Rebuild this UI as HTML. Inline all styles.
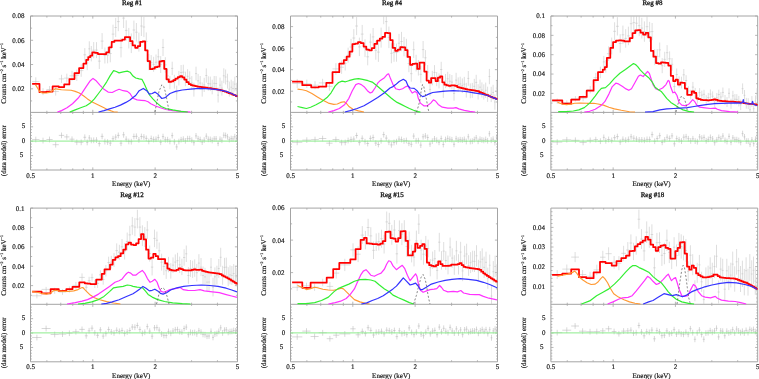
<!DOCTYPE html>
<html><head><meta charset="utf-8"><style>
html,body{margin:0;padding:0;background:#fff;}
svg{display:block;will-change:transform;}
text{font-family:"Liberation Serif",serif;font-size:7px;fill:#111;stroke:#111;stroke-width:0.16px;text-rendering:geometricPrecision;}
</style></head><body>
<svg width="759" height="379" viewBox="0 0 759 379">
<g><path d="M30.5,16.0H237.5V170.0H30.5Z M30.5,112.4H237.5" fill="none" stroke="#a4a4a4" stroke-width="1"/><path d="M46.89,16.0v1.6M46.89,112.4v-1.6M46.89,112.4v1.6M46.89,170.0v-1.6M60.75,16.0v1.6M60.75,112.4v-1.6M60.75,112.4v1.6M60.75,170.0v-1.6M72.75,16.0v1.6M72.75,112.4v-1.6M72.75,112.4v1.6M72.75,170.0v-1.6M83.34,16.0v1.6M83.34,112.4v-1.6M83.34,112.4v1.6M83.34,170.0v-1.6M92.81,16.0v2.6M92.81,112.4v-2.6M92.81,112.4v2.6M92.81,170.0v-2.6M155.13,16.0v2.6M155.13,112.4v-2.6M155.13,112.4v2.6M155.13,170.0v-2.6M191.58,16.0v1.6M191.58,112.4v-1.6M191.58,112.4v1.6M191.58,170.0v-1.6M217.44,16.0v1.6M217.44,112.4v-1.6M217.44,112.4v1.6M217.44,170.0v-1.6M30.5,100.93h1.6M237.5,100.93h-1.6M30.5,88.80h2.6M237.5,88.80h-2.6M30.5,76.67h1.6M237.5,76.67h-1.6M30.5,64.53h2.6M237.5,64.53h-2.6M30.5,52.40h1.6M237.5,52.40h-1.6M30.5,40.27h2.6M237.5,40.27h-2.6M30.5,28.13h1.6M237.5,28.13h-1.6M30.5,16.00h2.6M237.5,16.00h-2.6M30.5,167.12h1.4M237.5,167.12h-1.4M30.5,164.24h1.4M237.5,164.24h-1.4M30.5,161.36h1.4M237.5,161.36h-1.4M30.5,158.48h1.4M237.5,158.48h-1.4M30.5,155.60h2.6M237.5,155.60h-2.6M30.5,152.72h1.4M237.5,152.72h-1.4M30.5,149.84h1.4M237.5,149.84h-1.4M30.5,146.96h1.4M237.5,146.96h-1.4M30.5,144.08h1.4M237.5,144.08h-1.4M30.5,141.20h2.6M237.5,141.20h-2.6M30.5,138.32h1.4M237.5,138.32h-1.4M30.5,135.44h1.4M237.5,135.44h-1.4M30.5,132.56h1.4M237.5,132.56h-1.4M30.5,129.68h1.4M237.5,129.68h-1.4M30.5,126.80h2.6M237.5,126.80h-2.6M30.5,123.92h1.4M237.5,123.92h-1.4M30.5,121.04h1.4M237.5,121.04h-1.4M30.5,118.16h1.4M237.5,118.16h-1.4M30.5,115.28h1.4M237.5,115.28h-1.4" fill="none" stroke="#a4a4a4" stroke-width="0.8"/><text x="24.5" y="91.20" text-anchor="end">0.02</text><text x="24.5" y="66.93" text-anchor="end">0.04</text><text x="24.5" y="42.67" text-anchor="end">0.06</text><text x="24.5" y="18.40" text-anchor="end">0.08</text><text x="25.2" y="128.40" text-anchor="end">5</text><text x="25.2" y="142.80" text-anchor="end">0</text><text x="23.2" y="157.20" text-anchor="end">5</text><text x="30.50" y="177.60" text-anchor="middle">0.5</text><text x="92.81" y="177.60" text-anchor="middle">1</text><text x="155.13" y="177.60" text-anchor="middle">2</text><text x="237.50" y="177.60" text-anchor="middle">5</text><text x="131.20" y="185.80" text-anchor="middle">Energy (keV)</text><text x="132.00" y="4.80" text-anchor="middle" style="stroke-width:0.3px">Reg #1</text><text transform="translate(5.5,73.30) rotate(-90)" text-anchor="middle">Counts cm<tspan font-size="4" dy="-2.3">−2</tspan><tspan dy="2.3"> s</tspan><tspan font-size="4" dy="-2.3">−1</tspan><tspan dy="2.3"> keV</tspan><tspan font-size="4" dy="-2.3">−1</tspan></text><text transform="translate(5.5,150.70) rotate(-90)" text-anchor="middle">(data model) error</text></g><g><path d="M290.5,16.0H497.5V170.0H290.5Z M290.5,112.4H497.5" fill="none" stroke="#a4a4a4" stroke-width="1"/><path d="M306.89,16.0v1.6M306.89,112.4v-1.6M306.89,112.4v1.6M306.89,170.0v-1.6M320.75,16.0v1.6M320.75,112.4v-1.6M320.75,112.4v1.6M320.75,170.0v-1.6M332.75,16.0v1.6M332.75,112.4v-1.6M332.75,112.4v1.6M332.75,170.0v-1.6M343.34,16.0v1.6M343.34,112.4v-1.6M343.34,112.4v1.6M343.34,170.0v-1.6M352.81,16.0v2.6M352.81,112.4v-2.6M352.81,112.4v2.6M352.81,170.0v-2.6M415.13,16.0v2.6M415.13,112.4v-2.6M415.13,112.4v2.6M415.13,170.0v-2.6M451.58,16.0v1.6M451.58,112.4v-1.6M451.58,112.4v1.6M451.58,170.0v-1.6M477.44,16.0v1.6M477.44,112.4v-1.6M477.44,112.4v1.6M477.44,170.0v-1.6M290.5,101.97h1.6M497.5,101.97h-1.6M290.5,91.20h2.6M497.5,91.20h-2.6M290.5,80.43h1.6M497.5,80.43h-1.6M290.5,69.67h2.6M497.5,69.67h-2.6M290.5,58.90h1.6M497.5,58.90h-1.6M290.5,48.13h2.6M497.5,48.13h-2.6M290.5,37.37h1.6M497.5,37.37h-1.6M290.5,26.60h2.6M497.5,26.60h-2.6M290.5,167.12h1.4M497.5,167.12h-1.4M290.5,164.24h1.4M497.5,164.24h-1.4M290.5,161.36h1.4M497.5,161.36h-1.4M290.5,158.48h1.4M497.5,158.48h-1.4M290.5,155.60h2.6M497.5,155.60h-2.6M290.5,152.72h1.4M497.5,152.72h-1.4M290.5,149.84h1.4M497.5,149.84h-1.4M290.5,146.96h1.4M497.5,146.96h-1.4M290.5,144.08h1.4M497.5,144.08h-1.4M290.5,141.20h2.6M497.5,141.20h-2.6M290.5,138.32h1.4M497.5,138.32h-1.4M290.5,135.44h1.4M497.5,135.44h-1.4M290.5,132.56h1.4M497.5,132.56h-1.4M290.5,129.68h1.4M497.5,129.68h-1.4M290.5,126.80h2.6M497.5,126.80h-2.6M290.5,123.92h1.4M497.5,123.92h-1.4M290.5,121.04h1.4M497.5,121.04h-1.4M290.5,118.16h1.4M497.5,118.16h-1.4M290.5,115.28h1.4M497.5,115.28h-1.4" fill="none" stroke="#a4a4a4" stroke-width="0.8"/><text x="284.5" y="93.60" text-anchor="end">0.02</text><text x="284.5" y="72.07" text-anchor="end">0.04</text><text x="284.5" y="50.53" text-anchor="end">0.06</text><text x="284.5" y="29.00" text-anchor="end">0.08</text><text x="285.2" y="128.40" text-anchor="end">5</text><text x="285.2" y="142.80" text-anchor="end">0</text><text x="283.2" y="157.20" text-anchor="end">5</text><text x="290.50" y="177.60" text-anchor="middle">0.5</text><text x="352.81" y="177.60" text-anchor="middle">1</text><text x="415.13" y="177.60" text-anchor="middle">2</text><text x="497.50" y="177.60" text-anchor="middle">5</text><text x="391.20" y="185.80" text-anchor="middle">Energy (keV)</text><text x="392.00" y="4.80" text-anchor="middle" style="stroke-width:0.3px">Reg #4</text><text transform="translate(265.5,73.30) rotate(-90)" text-anchor="middle">Counts cm<tspan font-size="4" dy="-2.3">−2</tspan><tspan dy="2.3"> s</tspan><tspan font-size="4" dy="-2.3">−1</tspan><tspan dy="2.3"> keV</tspan><tspan font-size="4" dy="-2.3">−1</tspan></text><text transform="translate(265.5,150.70) rotate(-90)" text-anchor="middle">(data model) error</text></g><g><path d="M550.9,16.0H757.7V170.0H550.9Z M550.9,112.4H757.7" fill="none" stroke="#a4a4a4" stroke-width="1"/><path d="M567.27,16.0v1.6M567.27,112.4v-1.6M567.27,112.4v1.6M567.27,170.0v-1.6M581.12,16.0v1.6M581.12,112.4v-1.6M581.12,112.4v1.6M581.12,170.0v-1.6M593.11,16.0v1.6M593.11,112.4v-1.6M593.11,112.4v1.6M593.11,170.0v-1.6M603.69,16.0v1.6M603.69,112.4v-1.6M603.69,112.4v1.6M603.69,170.0v-1.6M613.15,16.0v2.6M613.15,112.4v-2.6M613.15,112.4v2.6M613.15,170.0v-2.6M675.41,16.0v2.6M675.41,112.4v-2.6M675.41,112.4v2.6M675.41,170.0v-2.6M711.82,16.0v1.6M711.82,112.4v-1.6M711.82,112.4v1.6M711.82,170.0v-1.6M737.66,16.0v1.6M737.66,112.4v-1.6M737.66,112.4v1.6M737.66,170.0v-1.6M550.9,103.08h1.6M757.7,103.08h-1.6M550.9,93.40h2.6M757.7,93.40h-2.6M550.9,83.73h1.6M757.7,83.73h-1.6M550.9,74.05h2.6M757.7,74.05h-2.6M550.9,64.38h1.6M757.7,64.38h-1.6M550.9,54.70h2.6M757.7,54.70h-2.6M550.9,45.02h1.6M757.7,45.02h-1.6M550.9,35.35h2.6M757.7,35.35h-2.6M550.9,25.68h1.6M757.7,25.68h-1.6M550.9,16.00h2.6M757.7,16.00h-2.6M550.9,167.12h1.4M757.7,167.12h-1.4M550.9,164.24h1.4M757.7,164.24h-1.4M550.9,161.36h1.4M757.7,161.36h-1.4M550.9,158.48h1.4M757.7,158.48h-1.4M550.9,155.60h2.6M757.7,155.60h-2.6M550.9,152.72h1.4M757.7,152.72h-1.4M550.9,149.84h1.4M757.7,149.84h-1.4M550.9,146.96h1.4M757.7,146.96h-1.4M550.9,144.08h1.4M757.7,144.08h-1.4M550.9,141.20h2.6M757.7,141.20h-2.6M550.9,138.32h1.4M757.7,138.32h-1.4M550.9,135.44h1.4M757.7,135.44h-1.4M550.9,132.56h1.4M757.7,132.56h-1.4M550.9,129.68h1.4M757.7,129.68h-1.4M550.9,126.80h2.6M757.7,126.80h-2.6M550.9,123.92h1.4M757.7,123.92h-1.4M550.9,121.04h1.4M757.7,121.04h-1.4M550.9,118.16h1.4M757.7,118.16h-1.4M550.9,115.28h1.4M757.7,115.28h-1.4" fill="none" stroke="#a4a4a4" stroke-width="0.8"/><text x="544.9" y="95.80" text-anchor="end">0.02</text><text x="544.9" y="76.45" text-anchor="end">0.04</text><text x="544.9" y="57.10" text-anchor="end">0.06</text><text x="544.9" y="37.75" text-anchor="end">0.08</text><text x="544.9" y="18.40" text-anchor="end">0.1</text><text x="545.6" y="128.40" text-anchor="end">5</text><text x="545.6" y="142.80" text-anchor="end">0</text><text x="543.6" y="157.20" text-anchor="end">5</text><text x="550.90" y="177.60" text-anchor="middle">0.5</text><text x="613.15" y="177.60" text-anchor="middle">1</text><text x="675.41" y="177.60" text-anchor="middle">2</text><text x="757.70" y="177.60" text-anchor="middle">5</text><text x="651.60" y="185.80" text-anchor="middle">Energy (keV)</text><text x="652.40" y="4.80" text-anchor="middle" style="stroke-width:0.3px">Reg #8</text><text transform="translate(525.9,73.30) rotate(-90)" text-anchor="middle">Counts cm<tspan font-size="4" dy="-2.3">−2</tspan><tspan dy="2.3"> s</tspan><tspan font-size="4" dy="-2.3">−1</tspan><tspan dy="2.3"> keV</tspan><tspan font-size="4" dy="-2.3">−1</tspan></text><text transform="translate(525.9,150.70) rotate(-90)" text-anchor="middle">(data model) error</text></g><g><path d="M30.5,208.1H237.5V361.8H30.5Z M30.5,304.3H237.5" fill="none" stroke="#a4a4a4" stroke-width="1"/><path d="M46.89,208.1v1.6M46.89,304.3v-1.6M46.89,304.3v1.6M46.89,361.8v-1.6M60.75,208.1v1.6M60.75,304.3v-1.6M60.75,304.3v1.6M60.75,361.8v-1.6M72.75,208.1v1.6M72.75,304.3v-1.6M72.75,304.3v1.6M72.75,361.8v-1.6M83.34,208.1v1.6M83.34,304.3v-1.6M83.34,304.3v1.6M83.34,361.8v-1.6M92.81,208.1v2.6M92.81,304.3v-2.6M92.81,304.3v2.6M92.81,361.8v-2.6M155.13,208.1v2.6M155.13,304.3v-2.6M155.13,304.3v2.6M155.13,361.8v-2.6M191.58,208.1v1.6M191.58,304.3v-1.6M191.58,304.3v1.6M191.58,361.8v-1.6M217.44,208.1v1.6M217.44,304.3v-1.6M217.44,304.3v1.6M217.44,361.8v-1.6M30.5,295.29h1.6M237.5,295.29h-1.6M30.5,285.60h2.6M237.5,285.60h-2.6M30.5,275.91h1.6M237.5,275.91h-1.6M30.5,266.23h2.6M237.5,266.23h-2.6M30.5,256.54h1.6M237.5,256.54h-1.6M30.5,246.85h2.6M237.5,246.85h-2.6M30.5,237.16h1.6M237.5,237.16h-1.6M30.5,227.48h2.6M237.5,227.48h-2.6M30.5,217.79h1.6M237.5,217.79h-1.6M30.5,208.10h2.6M237.5,208.10h-2.6M30.5,358.97h1.4M237.5,358.97h-1.4M30.5,356.09h1.4M237.5,356.09h-1.4M30.5,353.21h1.4M237.5,353.21h-1.4M30.5,350.33h1.4M237.5,350.33h-1.4M30.5,347.45h2.6M237.5,347.45h-2.6M30.5,344.57h1.4M237.5,344.57h-1.4M30.5,341.69h1.4M237.5,341.69h-1.4M30.5,338.81h1.4M237.5,338.81h-1.4M30.5,335.93h1.4M237.5,335.93h-1.4M30.5,333.05h2.6M237.5,333.05h-2.6M30.5,330.17h1.4M237.5,330.17h-1.4M30.5,327.29h1.4M237.5,327.29h-1.4M30.5,324.41h1.4M237.5,324.41h-1.4M30.5,321.53h1.4M237.5,321.53h-1.4M30.5,318.65h2.6M237.5,318.65h-2.6M30.5,315.77h1.4M237.5,315.77h-1.4M30.5,312.89h1.4M237.5,312.89h-1.4M30.5,310.01h1.4M237.5,310.01h-1.4M30.5,307.13h1.4M237.5,307.13h-1.4" fill="none" stroke="#a4a4a4" stroke-width="0.8"/><text x="24.5" y="288.00" text-anchor="end">0.02</text><text x="24.5" y="268.62" text-anchor="end">0.04</text><text x="24.5" y="249.25" text-anchor="end">0.06</text><text x="24.5" y="229.88" text-anchor="end">0.08</text><text x="24.5" y="210.50" text-anchor="end">0.1</text><text x="25.2" y="320.25" text-anchor="end">5</text><text x="25.2" y="334.65" text-anchor="end">0</text><text x="23.2" y="349.05" text-anchor="end">5</text><text x="30.50" y="369.40" text-anchor="middle">0.5</text><text x="92.81" y="369.40" text-anchor="middle">1</text><text x="155.13" y="369.40" text-anchor="middle">2</text><text x="237.50" y="369.40" text-anchor="middle">5</text><text x="131.20" y="377.60" text-anchor="middle">Energy (keV)</text><text x="132.00" y="196.90" text-anchor="middle" style="stroke-width:0.3px">Reg #12</text><text transform="translate(5.5,265.40) rotate(-90)" text-anchor="middle">Counts cm<tspan font-size="4" dy="-2.3">−2</tspan><tspan dy="2.3"> s</tspan><tspan font-size="4" dy="-2.3">−1</tspan><tspan dy="2.3"> keV</tspan><tspan font-size="4" dy="-2.3">−1</tspan></text><text transform="translate(5.5,342.80) rotate(-90)" text-anchor="middle">(data model) error</text></g><g><path d="M290.5,208.1H497.5V361.8H290.5Z M290.5,304.3H497.5" fill="none" stroke="#a4a4a4" stroke-width="1"/><path d="M306.89,208.1v1.6M306.89,304.3v-1.6M306.89,304.3v1.6M306.89,361.8v-1.6M320.75,208.1v1.6M320.75,304.3v-1.6M320.75,304.3v1.6M320.75,361.8v-1.6M332.75,208.1v1.6M332.75,304.3v-1.6M332.75,304.3v1.6M332.75,361.8v-1.6M343.34,208.1v1.6M343.34,304.3v-1.6M343.34,304.3v1.6M343.34,361.8v-1.6M352.81,208.1v2.6M352.81,304.3v-2.6M352.81,304.3v2.6M352.81,361.8v-2.6M415.13,208.1v2.6M415.13,304.3v-2.6M415.13,304.3v2.6M415.13,361.8v-2.6M451.58,208.1v1.6M451.58,304.3v-1.6M451.58,304.3v1.6M451.58,361.8v-1.6M477.44,208.1v1.6M477.44,304.3v-1.6M477.44,304.3v1.6M477.44,361.8v-1.6M290.5,288.85h1.6M497.5,288.85h-1.6M290.5,272.60h2.6M497.5,272.60h-2.6M290.5,256.35h1.6M497.5,256.35h-1.6M290.5,240.10h2.6M497.5,240.10h-2.6M290.5,223.85h1.6M497.5,223.85h-1.6M290.5,358.97h1.4M497.5,358.97h-1.4M290.5,356.09h1.4M497.5,356.09h-1.4M290.5,353.21h1.4M497.5,353.21h-1.4M290.5,350.33h1.4M497.5,350.33h-1.4M290.5,347.45h2.6M497.5,347.45h-2.6M290.5,344.57h1.4M497.5,344.57h-1.4M290.5,341.69h1.4M497.5,341.69h-1.4M290.5,338.81h1.4M497.5,338.81h-1.4M290.5,335.93h1.4M497.5,335.93h-1.4M290.5,333.05h2.6M497.5,333.05h-2.6M290.5,330.17h1.4M497.5,330.17h-1.4M290.5,327.29h1.4M497.5,327.29h-1.4M290.5,324.41h1.4M497.5,324.41h-1.4M290.5,321.53h1.4M497.5,321.53h-1.4M290.5,318.65h2.6M497.5,318.65h-2.6M290.5,315.77h1.4M497.5,315.77h-1.4M290.5,312.89h1.4M497.5,312.89h-1.4M290.5,310.01h1.4M497.5,310.01h-1.4M290.5,307.13h1.4M497.5,307.13h-1.4" fill="none" stroke="#a4a4a4" stroke-width="0.8"/><text x="284.5" y="275.00" text-anchor="end">0.02</text><text x="284.5" y="242.50" text-anchor="end">0.04</text><text x="284.5" y="210.00" text-anchor="end">0.06</text><text x="285.2" y="320.25" text-anchor="end">5</text><text x="285.2" y="334.65" text-anchor="end">0</text><text x="283.2" y="349.05" text-anchor="end">5</text><text x="290.50" y="369.40" text-anchor="middle">0.5</text><text x="352.81" y="369.40" text-anchor="middle">1</text><text x="415.13" y="369.40" text-anchor="middle">2</text><text x="497.50" y="369.40" text-anchor="middle">5</text><text x="391.20" y="377.60" text-anchor="middle">Energy (keV)</text><text x="392.00" y="196.90" text-anchor="middle" style="stroke-width:0.3px">Reg #15</text><text transform="translate(265.5,265.40) rotate(-90)" text-anchor="middle">Counts cm<tspan font-size="4" dy="-2.3">−2</tspan><tspan dy="2.3"> s</tspan><tspan font-size="4" dy="-2.3">−1</tspan><tspan dy="2.3"> keV</tspan><tspan font-size="4" dy="-2.3">−1</tspan></text><text transform="translate(265.5,342.80) rotate(-90)" text-anchor="middle">(data model) error</text></g><g><path d="M550.9,208.1H757.7V361.8H550.9Z M550.9,304.3H757.7" fill="none" stroke="#a4a4a4" stroke-width="1"/><path d="M567.27,208.1v1.6M567.27,304.3v-1.6M567.27,304.3v1.6M567.27,361.8v-1.6M581.12,208.1v1.6M581.12,304.3v-1.6M581.12,304.3v1.6M581.12,361.8v-1.6M593.11,208.1v1.6M593.11,304.3v-1.6M593.11,304.3v1.6M593.11,361.8v-1.6M603.69,208.1v1.6M603.69,304.3v-1.6M603.69,304.3v1.6M603.69,361.8v-1.6M613.15,208.1v2.6M613.15,304.3v-2.6M613.15,304.3v2.6M613.15,361.8v-2.6M675.41,208.1v2.6M675.41,304.3v-2.6M675.41,304.3v2.6M675.41,361.8v-2.6M711.82,208.1v1.6M711.82,304.3v-1.6M711.82,304.3v1.6M711.82,361.8v-1.6M737.66,208.1v1.6M737.66,304.3v-1.6M737.66,304.3v1.6M737.66,361.8v-1.6M550.9,301.88h1.6M757.7,301.88h-1.6M550.9,297.96h1.6M757.7,297.96h-1.6M550.9,294.04h1.6M757.7,294.04h-1.6M550.9,290.12h1.6M757.7,290.12h-1.6M550.9,286.20h2.6M757.7,286.20h-2.6M550.9,282.28h1.6M757.7,282.28h-1.6M550.9,278.36h1.6M757.7,278.36h-1.6M550.9,274.44h1.6M757.7,274.44h-1.6M550.9,270.52h1.6M757.7,270.52h-1.6M550.9,266.60h2.6M757.7,266.60h-2.6M550.9,262.68h1.6M757.7,262.68h-1.6M550.9,258.76h1.6M757.7,258.76h-1.6M550.9,254.84h1.6M757.7,254.84h-1.6M550.9,250.92h1.6M757.7,250.92h-1.6M550.9,247.00h2.6M757.7,247.00h-2.6M550.9,243.08h1.6M757.7,243.08h-1.6M550.9,239.16h1.6M757.7,239.16h-1.6M550.9,235.24h1.6M757.7,235.24h-1.6M550.9,231.32h1.6M757.7,231.32h-1.6M550.9,227.40h2.6M757.7,227.40h-2.6M550.9,223.48h1.6M757.7,223.48h-1.6M550.9,219.56h1.6M757.7,219.56h-1.6M550.9,215.64h1.6M757.7,215.64h-1.6M550.9,211.72h1.6M757.7,211.72h-1.6M550.9,358.97h1.4M757.7,358.97h-1.4M550.9,356.09h1.4M757.7,356.09h-1.4M550.9,353.21h1.4M757.7,353.21h-1.4M550.9,350.33h1.4M757.7,350.33h-1.4M550.9,347.45h2.6M757.7,347.45h-2.6M550.9,344.57h1.4M757.7,344.57h-1.4M550.9,341.69h1.4M757.7,341.69h-1.4M550.9,338.81h1.4M757.7,338.81h-1.4M550.9,335.93h1.4M757.7,335.93h-1.4M550.9,333.05h2.6M757.7,333.05h-2.6M550.9,330.17h1.4M757.7,330.17h-1.4M550.9,327.29h1.4M757.7,327.29h-1.4M550.9,324.41h1.4M757.7,324.41h-1.4M550.9,321.53h1.4M757.7,321.53h-1.4M550.9,318.65h2.6M757.7,318.65h-2.6M550.9,315.77h1.4M757.7,315.77h-1.4M550.9,312.89h1.4M757.7,312.89h-1.4M550.9,310.01h1.4M757.7,310.01h-1.4M550.9,307.13h1.4M757.7,307.13h-1.4" fill="none" stroke="#a4a4a4" stroke-width="0.8"/><text x="544.9" y="288.60" text-anchor="end">0.01</text><text x="544.9" y="269.00" text-anchor="end">0.02</text><text x="544.9" y="249.40" text-anchor="end">0.03</text><text x="544.9" y="229.80" text-anchor="end">0.04</text><text x="545.6" y="320.25" text-anchor="end">5</text><text x="545.6" y="334.65" text-anchor="end">0</text><text x="543.6" y="349.05" text-anchor="end">5</text><text x="550.90" y="369.40" text-anchor="middle">0.5</text><text x="613.15" y="369.40" text-anchor="middle">1</text><text x="675.41" y="369.40" text-anchor="middle">2</text><text x="757.70" y="369.40" text-anchor="middle">5</text><text x="651.60" y="377.60" text-anchor="middle">Energy (keV)</text><text x="652.40" y="196.90" text-anchor="middle" style="stroke-width:0.3px">Reg #18</text><text transform="translate(525.9,265.40) rotate(-90)" text-anchor="middle">Counts cm<tspan font-size="4" dy="-2.3">−2</tspan><tspan dy="2.3"> s</tspan><tspan font-size="4" dy="-2.3">−1</tspan><tspan dy="2.3"> keV</tspan><tspan font-size="4" dy="-2.3">−1</tspan></text><text transform="translate(525.9,342.80) rotate(-90)" text-anchor="middle">(data model) error</text></g><path d="M32.1,81.6H39.5M35.8,77.3V85.9M39.5,91.6H46.4M43.0,88.2V95.1M46.4,89.5H52.6M49.5,86.0V93.1M52.6,91.5H58.8M55.7,87.4V95.6M58.8,78.9H64.2M61.5,74.8V83.0M64.2,78.1H69.4M66.8,73.7V82.5M69.4,75.8H74.5M72.0,70.8V80.8M74.5,75.2H79.1M76.8,69.6V80.9M79.1,70.6H83.4M81.2,64.4V76.8M83.4,54.8H86.2M84.8,48.1V61.5M86.2,63.0H88.3M87.2,55.9V70.2M88.3,48.8H90.3M89.3,41.3V56.3M90.3,53.7H92.3M91.3,46.0V61.4M92.3,50.2H95.1M93.7,42.1V58.2M95.1,50.1H97.9M96.5,42.1V58.1M97.9,61.1H100.7M99.3,53.2V69.0M100.7,41.1H103.5M102.1,33.1V49.0M103.5,55.5H106.2M104.9,47.5V63.5M106.2,55.1H109.0M107.6,46.9V63.3M109.0,53.5H111.7M110.3,44.7V62.3M111.7,34.1H114.4M113.0,24.7V43.5M114.4,27.5H117.0M115.7,17.9V37.1M117.0,21.6H119.7M118.3,16.0V31.2M119.7,47.7H122.3M121.0,38.0V57.4M122.3,18.1H124.9M123.6,16.0V28.0M124.9,30.4H127.5M126.2,20.3V40.6M127.5,38.2H130.1M128.8,27.9V48.4M130.1,43.3H132.6M131.3,33.4V53.1M132.6,30.0H135.2M133.9,20.6V39.5M135.2,32.2H137.7M136.4,23.0V41.5M137.7,42.1H140.2M138.9,32.6V51.6M140.2,26.0H142.7M141.4,16.0V36.0M142.7,27.0H145.1M143.9,16.9V37.1M145.1,41.6H147.6M146.3,32.4V50.9M147.6,62.0H150.0M148.8,53.9V70.2M150.0,62.5H152.4M151.2,55.1V69.9M152.4,64.3H154.8M153.6,56.8V71.8M154.8,62.2H157.2M156.0,54.5V69.9M157.2,56.8H159.5M158.3,48.9V64.6M159.5,64.6H161.9M160.7,56.2V73.0M161.9,47.5H164.2M163.0,38.9V56.0M164.2,64.9H166.5M165.3,57.2V72.7M166.5,75.9H168.8M167.6,69.1V82.6M168.8,82.7H171.1M169.9,76.1V89.2M171.1,68.4H173.3M172.2,61.7V75.1M173.3,81.7H175.5M174.4,74.8V88.6M175.5,92.8H177.8M176.7,85.7V99.9M177.8,78.2H180.0M178.9,70.9V85.5M180.0,72.5H182.2M181.1,65.0V79.9M182.2,72.2H184.3M183.3,64.7V79.6M184.3,78.9H186.5M185.4,71.7V86.2M186.5,76.3H188.7M187.6,69.2V83.3M188.7,78.2H190.8M189.7,71.3V85.1M190.8,83.0H192.9M191.8,76.1V89.9M192.9,89.6H195.0M193.9,82.7V96.6M195.0,73.6H197.1M196.0,66.7V80.5M197.1,80.8H199.1M198.1,73.9V87.8M199.1,83.0H201.2M200.2,76.0V90.0M201.2,89.5H203.2M202.2,82.5V96.6M203.2,84.9H205.3M204.2,77.8V92.0M205.3,75.5H207.3M206.3,68.4V82.7M207.3,83.5H209.3M208.3,76.3V90.7M209.3,83.9H211.2M210.3,76.6V91.1M211.2,87.0H213.2M212.2,79.7V94.3M213.2,83.3H215.2M214.2,76.0V90.6M215.2,83.5H217.1M216.1,76.1V90.8M217.1,95.1H219.0M218.1,87.7V102.5M219.0,85.1H220.9M220.0,77.6V92.5M220.9,88.1H222.8M221.9,80.7V95.6M222.8,75.8H224.7M223.8,68.3V83.2M224.7,77.0H226.6M225.6,69.5V84.5M226.6,81.2H228.4M227.5,73.7V88.6M228.4,89.1H230.3M229.3,81.6V96.6M230.3,87.2H232.1M231.2,79.7V94.7M232.1,88.6H233.9M233.0,81.2V96.1M233.9,84.1H235.7M234.8,76.7V91.6M235.7,90.3H237.5M236.6,82.8V97.7" fill="none" stroke="#c2c2c2" stroke-width="0.55"/><path d="M32.1,139.6H39.5M35.8,136.7V142.4M39.5,140.6H46.4M43.0,137.7V143.5M46.4,139.5H52.6M49.5,136.6V142.4M52.6,144.7H58.8M55.7,141.8V147.6M58.8,135.4H64.2M61.5,132.5V138.2M64.2,136.9H69.4M66.8,134.1V139.8M69.4,139.2H74.5M72.0,136.4V142.1M74.5,142.2H79.1M76.8,139.4V145.1M79.1,142.3H83.4M81.2,139.4V145.2M83.4,137.3H86.2M84.8,134.4V140.2M86.2,142.4H88.3M87.2,139.5V145.3M88.3,137.9H90.3M89.3,135.1V140.8M90.3,140.4H92.3M91.3,137.5V143.3M92.3,140.3H95.1M93.7,137.4V143.2M95.1,140.1H97.9M96.5,137.2V143.0M97.9,143.6H100.7M99.3,140.8V146.5M100.7,136.4H103.5M102.1,133.5V139.3M103.5,141.6H106.2M104.9,138.7V144.5M106.2,142.0H109.0M107.6,139.2V144.9M109.0,143.1H111.7M110.3,140.2V146.0M111.7,138.7H114.4M113.0,135.8V141.6M114.4,137.1H117.0M115.7,134.3V140.0M117.0,135.4H119.7M118.3,132.5V138.3M119.7,143.2H122.3M121.0,140.4V146.1M122.3,134.8H124.9M123.6,131.9V137.7M124.9,139.2H127.5M126.2,136.3V142.1M127.5,141.4H130.1M128.8,138.6V144.3M130.1,141.7H132.6M131.3,138.8V144.6M132.6,136.5H135.2M133.9,133.6V139.3M135.2,136.3H137.7M136.4,133.4V139.1M137.7,139.9H140.2M138.9,137.0V142.8M140.2,136.5H142.7M141.4,133.6V139.4M142.7,137.0H145.1M143.9,134.1V139.9M145.1,138.4H147.6M146.3,135.5V141.3M147.6,141.4H150.0M148.8,138.6V144.3M150.0,138.5H152.4M151.2,135.6V141.4M152.4,139.5H154.8M153.6,136.6V142.4M154.8,139.2H157.2M156.0,136.4V142.1M157.2,137.5H159.5M158.3,134.6V140.3M159.5,142.2H161.9M160.7,139.3V145.1M161.9,136.6H164.2M163.0,133.7V139.5M164.2,139.7H166.5M165.3,136.8V142.6M166.5,139.6H168.8M167.6,136.8V142.5M168.8,141.4H171.1M169.9,138.6V144.3M171.1,135.6H173.3M172.2,132.7V138.4M173.3,141.8H175.5M174.4,138.9V144.7M175.5,146.9H177.8M176.7,144.0V149.8M177.8,141.6H180.0M178.9,138.7V144.4M180.0,139.7H182.2M181.1,136.8V142.5M182.2,139.1H184.3M183.3,136.3V142.0M184.3,140.9H186.5M185.4,138.0V143.7M186.5,138.7H188.7M187.6,135.8V141.6M188.7,138.7H190.8M189.7,135.8V141.5M190.8,140.2H192.9M191.8,137.3V143.1M192.9,142.7H195.0M193.9,139.9V145.6M195.0,135.9H197.1M196.0,133.0V138.8M197.1,138.8H199.1M198.1,135.9V141.7M199.1,139.5H201.2M200.2,136.7V142.4M201.2,142.1H203.2M202.2,139.2V145.0M203.2,140.1H205.3M204.2,137.2V143.0M205.3,136.2H207.3M206.3,133.3V139.1M207.3,139.3H209.3M208.3,136.4V142.2M209.3,139.4H211.2M210.3,136.5V142.2M211.2,140.5H213.2M212.2,137.6V143.4M213.2,138.9H215.2M214.2,136.1V141.8M215.2,138.9H217.1M216.1,136.0V141.8M217.1,143.3H219.0M218.1,140.4V146.2M219.0,139.2H220.9M220.0,136.4V142.1M220.9,140.2H222.8M221.9,137.3V143.1M222.8,135.2H224.7M223.8,132.3V138.1M224.7,135.5H226.6M225.6,132.6V138.4M226.6,136.8H228.4M227.5,133.9V139.7M228.4,139.6H230.3M229.3,136.7V142.5M230.3,138.6H232.1M231.2,135.7V141.5M232.1,138.9H233.9M233.0,136.0V141.7M233.9,136.8H235.7M234.8,133.9V139.7M235.7,138.9H237.5M236.6,136.0V141.8" fill="none" stroke="#b8b8b8" stroke-width="0.55"/><path d="M30.5,141.1H237.5" stroke="#8cec8c" stroke-width="1"/><path d="M292.1,83.5H302.3M297.2,78.9V88.0M302.3,83.8H311.2M306.8,79.6V88.0M311.2,85.2H318.8M315.0,81.2V89.2M318.8,82.9H326.3M322.6,78.8V87.0M326.3,86.3H332.5M329.4,81.7V90.8M332.5,68.9H339.3M335.9,63.2V74.7M339.3,67.2H343.8M341.6,60.4V73.9M343.8,63.3H346.7M345.2,56.2V70.5M346.7,55.2H349.6M348.1,47.7V62.7M349.6,47.0H352.4M351.0,38.9V55.2M352.4,38.0H355.2M353.8,29.1V46.9M355.2,26.0H358.0M356.6,17.0V35.1M358.0,46.9H360.8M359.4,37.6V56.1M360.8,34.1H363.6M362.2,24.9V43.3M363.6,48.2H366.3M365.0,39.3V57.1M366.3,56.8H369.1M367.7,48.2V65.3M369.1,42.1H371.8M370.4,33.6V50.7M371.8,36.9H374.4M373.1,28.0V45.7M374.4,50.3H377.1M375.8,41.0V59.7M377.1,52.1H379.8M378.4,42.4V61.9M379.8,37.6H382.4M381.1,27.6V47.6M383.7,16.0V24.2M385.0,21.6H387.6M386.3,16.0V32.3M387.6,37.4H390.2M388.9,26.6V48.1M390.2,53.3H392.7M391.4,43.2V63.3M392.7,52.4H395.2M394.0,43.1V61.8M395.2,52.6H397.8M396.5,43.6V61.7M397.8,43.2H400.3M399.0,33.9V52.4M400.3,41.5H402.7M401.5,31.9V51.2M402.7,46.6H405.2M404.0,37.0V56.3M405.2,48.2H407.6M406.4,38.8V57.6M407.6,63.5H410.1M408.9,54.7V72.2M410.1,73.7H412.5M411.3,65.7V81.7M412.5,49.7H414.9M413.7,41.5V57.9M414.9,63.1H417.2M416.1,54.8V71.4M417.2,67.8H419.6M418.4,60.0V75.6M419.6,74.3H421.9M420.8,65.8V82.8M421.9,49.6H424.3M423.1,41.0V58.2M424.3,57.8H426.6M425.4,50.1V65.5M426.6,72.0H428.9M427.7,65.1V78.8M428.9,89.4H431.1M430.0,82.7V96.1M431.1,78.1H433.4M432.3,70.8V85.3M433.4,72.4H435.6M434.5,65.1V79.7M435.6,79.1H437.9M436.7,72.0V86.2M437.9,80.9H440.1M439.0,73.4V88.4M440.1,69.5H442.3M441.2,61.8V77.2M442.3,90.7H444.4M443.3,83.5V97.9M444.4,81.0H446.6M445.5,74.0V88.1M446.6,78.8H448.7M447.7,71.8V85.8M448.7,81.2H450.9M449.8,74.1V88.3M450.9,82.1H453.0M451.9,75.0V89.3M453.0,93.5H455.1M454.0,86.2V100.7M455.1,80.1H457.2M456.1,72.8V87.4M457.2,84.6H459.2M458.2,77.4V91.9M459.2,83.9H461.3M460.2,76.7V91.2M461.3,85.7H463.3M462.3,78.4V93.0M463.3,84.2H465.3M464.3,76.9V91.5M465.3,90.2H467.3M466.3,82.9V97.6M467.3,78.4H469.3M468.3,71.0V85.8M469.3,90.9H471.3M470.3,83.4V98.3M471.3,90.4H473.3M472.3,82.9V97.9M473.3,86.3H475.2M474.3,78.8V93.9M475.2,82.4H477.2M476.2,74.8V89.9M477.2,91.8H479.1M478.1,84.2V99.5M479.1,87.2H481.0M480.0,79.6V94.8M481.0,90.0H482.9M481.9,82.4V97.6M482.9,91.9H484.8M483.8,84.3V99.6M484.8,90.3H486.6M485.7,82.6V97.9M486.6,94.3H488.5M487.6,86.7V101.9M488.5,76.5H490.3M489.4,68.9V84.2M490.3,94.4H492.2M491.2,86.8V102.1M492.2,92.5H494.0M493.1,84.8V100.1M494.0,102.0H495.8M494.9,94.4V109.7M495.8,88.1H497.5M496.6,80.4V95.8" fill="none" stroke="#c2c2c2" stroke-width="0.55"/><path d="M292.1,142.3H302.3M297.2,139.5V145.2M302.3,140.1H311.2M306.8,137.3V143.0M311.2,139.6H318.8M315.0,136.7V142.4M318.8,138.5H326.3M322.6,135.7V141.4M326.3,143.2H332.5M329.4,140.3V146.1M332.5,139.5H339.3M335.9,136.6V142.3M339.3,142.6H343.8M341.6,139.7V145.5M343.8,142.5H346.7M345.2,139.6V145.3M346.7,140.5H349.6M348.1,137.6V143.4M349.6,139.5H352.4M351.0,136.6V142.4M352.4,139.1H355.2M353.8,136.3V142.0M355.2,135.5H358.0M356.6,132.7V138.4M358.0,142.6H360.8M359.4,139.7V145.5M360.8,138.3H363.6M362.2,135.4V141.2M363.6,141.6H366.3M365.0,138.8V144.5M366.3,143.5H369.1M367.7,140.6V146.4M369.1,138.4H371.8M370.4,135.5V141.3M371.8,137.5H374.4M373.1,134.6V140.3M374.4,143.1H377.1M375.8,140.2V146.0M377.1,144.5H379.8M378.4,141.6V147.4M379.8,140.8H382.4M381.1,137.9V143.7M382.4,134.6H385.0M383.7,131.8V137.5M385.0,138.1H387.6M386.3,135.2V140.9M387.6,142.2H390.2M388.9,139.4V145.1M390.2,144.9H392.7M391.4,142.0V147.7M392.7,142.5H395.2M394.0,139.6V145.4M395.2,141.7H397.8M396.5,138.8V144.6M397.8,139.1H400.3M399.0,136.2V141.9M400.3,139.5H402.7M401.5,136.6V142.4M402.7,140.9H405.2M404.0,138.0V143.8M405.2,140.5H407.6M406.4,137.6V143.4M407.6,143.3H410.1M408.9,140.4V146.1M410.1,144.3H412.5M411.3,141.4V147.2M412.5,136.1H414.9M413.7,133.3V139.0M414.9,140.9H417.2M416.1,138.0V143.8M417.2,140.7H419.6M418.4,137.8V143.6M419.6,145.1H421.9M420.8,142.2V148.0M421.9,136.8H424.3M423.1,133.9V139.6M424.3,136.0H426.6M425.4,133.1V138.8M426.6,137.5H428.9M427.7,134.6V140.4M428.9,144.0H431.1M430.0,141.1V146.9M431.1,141.1H433.4M432.3,138.3V144.0M433.4,138.9H435.6M434.5,136.0V141.8M435.6,140.3H437.9M436.7,137.4V143.2M437.9,142.3H440.1M439.0,139.4V145.2M440.1,138.6H442.3M441.2,135.7V141.4M442.3,144.5H444.4M443.3,141.6V147.4M444.4,139.6H446.6M445.5,136.7V142.5M446.6,138.4H448.7M447.7,135.5V141.3M448.7,139.2H450.9M449.8,136.3V142.1M450.9,139.8H453.0M451.9,136.9V142.6M453.0,144.3H455.1M454.0,141.5V147.2M455.1,138.8H457.2M456.1,135.9V141.7M457.2,140.1H459.2M458.2,137.3V143.0M459.2,139.6H461.3M460.2,136.8V142.5M461.3,140.1H463.3M462.3,137.2V143.0M463.3,139.3H465.3M464.3,136.5V142.2M465.3,141.5H467.3M466.3,138.6V144.4M467.3,136.8H469.3M468.3,133.9V139.7M469.3,141.5H471.3M470.3,138.6V144.4M471.3,141.2H473.3M472.3,138.3V144.1M473.3,139.6H475.2M474.3,136.7V142.4M475.2,137.9H477.2M476.2,135.0V140.8M477.2,141.4H479.1M478.1,138.5V144.2M479.1,139.3H481.0M480.0,136.4V142.1M481.0,140.0H482.9M481.9,137.1V142.9M482.9,140.4H484.8M483.8,137.6V143.3M484.8,139.5H486.6M485.7,136.6V142.4M486.6,140.8H488.5M487.6,137.9V143.6M488.5,133.7H490.3M489.4,130.9V136.6M490.3,140.2H492.2M491.2,137.3V143.1M492.2,139.2H494.0M493.1,136.3V142.0M494.0,142.5H495.8M494.9,139.7V145.4M495.8,137.1H497.5M496.6,134.2V140.0" fill="none" stroke="#b8b8b8" stroke-width="0.55"/><path d="M290.5,141.1H497.5" stroke="#8cec8c" stroke-width="1"/><path d="M552.1,101.2H562.3M557.2,98.6V103.8M562.3,102.7H571.2M566.8,100.4V104.9M571.2,98.8H579.5M575.4,96.1V101.5M579.5,98.3H586.7M583.1,95.3V101.3M586.7,89.7H593.6M590.2,86.0V93.4M593.6,77.7H598.0M595.8,72.9V82.6M598.0,72.4H602.8M600.4,66.7V78.2M602.8,61.9H604.8M603.8,55.9V67.9M604.8,66.4H606.9M605.8,60.0V72.7M606.9,53.7H610.3M608.6,46.4V61.0M610.3,46.0H613.1M611.7,37.6V54.4M613.1,31.3H616.0M614.6,22.3V40.4M616.0,26.3H618.8M617.4,17.1V35.5M618.8,43.5H621.6M620.2,34.2V52.7M621.6,34.8H624.3M622.9,25.6V44.1M624.3,38.4H627.1M625.7,29.2V47.7M627.1,35.9H629.8M628.4,26.7V45.2M629.8,23.7H632.5M631.1,16.0V33.3M632.5,22.6H635.2M633.8,16.0V32.8M635.2,23.2H637.8M636.5,16.0V33.7M637.8,25.7H640.5M639.2,16.0V36.2M640.5,28.1H643.1M641.8,17.8V38.5M643.1,31.6H645.7M644.4,21.4V41.8M645.7,26.7H648.3M647.0,16.3V37.1M648.3,31.9H650.9M649.6,21.9V41.8M650.9,31.6H653.4M652.1,23.0V40.2M653.4,57.2H656.0M654.7,49.1V65.2M656.0,56.4H658.5M657.2,49.0V63.8M658.5,49.9H661.0M659.7,42.5V57.3M661.0,65.7H663.4M662.2,58.1V73.2M663.4,59.3H665.9M664.7,51.8V66.9M665.9,52.7H668.3M667.1,45.1V60.3M668.3,58.8H670.8M669.6,51.4V66.1M670.8,64.3H673.2M672.0,58.0V70.7M673.2,86.6H675.6M674.4,80.8V92.5M675.6,74.5H677.9M676.7,68.5V80.5M677.9,81.9H680.3M679.1,76.3V87.5M680.3,82.5H682.6M681.5,76.7V88.4M682.6,74.8H684.9M683.8,69.0V80.7M684.9,80.5H687.2M686.1,75.2V85.8M687.2,91.0H689.5M688.4,86.3V95.6M689.5,94.5H691.8M690.7,89.8V99.3M691.8,87.1H694.1M692.9,81.9V92.3M694.1,92.9H696.3M695.2,87.9V98.0M696.3,99.2H698.5M697.4,94.6V103.7M698.5,92.7H700.7M699.6,88.2V97.1M700.7,95.1H702.9M701.8,90.6V99.5M702.9,94.3H705.1M704.0,89.8V98.8M705.1,99.7H707.2M706.2,95.2V104.3M707.2,97.5H709.4M708.3,92.9V102.1M709.4,94.1H711.5M710.4,89.4V98.8M711.5,96.2H713.6M712.6,91.4V100.9M713.6,102.1H715.7M714.7,97.3V107.0M715.7,97.8H717.8M716.8,93.0V102.7M717.8,94.5H719.9M718.8,89.7V99.3M719.9,97.0H721.9M720.9,92.1V101.8M721.9,92.4H724.0M722.9,87.5V97.3M724.0,100.0H726.0M725.0,95.0V104.9M726.0,102.0H728.0M727.0,97.1V107.0M728.0,93.3H730.0M729.0,88.3V98.3M730.0,103.8H731.9M731.0,98.7V108.8M731.9,95.9H733.9M732.9,90.8V101.1M733.9,99.2H735.9M734.9,94.1V104.4M735.9,99.4H737.8M736.8,94.2V104.6M737.8,101.1H739.7M738.8,95.9V106.4M739.7,104.8H741.6M740.7,99.6V110.1M741.6,88.7H743.5M742.6,83.4V94.0M743.5,95.3H745.4M744.5,90.0V100.7M745.4,103.3H747.3M746.3,97.9V108.7M747.3,103.6H749.1M748.2,98.2V109.0M749.1,109.7H751.0M750.0,104.2V112.4M751.0,101.6H752.8M751.9,96.1V107.1M752.8,108.8H754.6M753.7,103.3V112.4M754.6,101.0H756.4M755.5,95.4V106.5M756.4,93.8H757.7M757.0,88.2V99.4" fill="none" stroke="#c2c2c2" stroke-width="0.55"/><path d="M552.1,142.1H562.3M557.2,139.2V145.0M562.3,139.8H571.2M566.8,136.9V142.6M571.2,140.3H579.5M575.4,137.4V143.1M579.5,142.4H586.7M583.1,139.5V145.3M586.7,140.3H593.6M590.2,137.5V143.2M593.6,139.6H598.0M595.8,136.8V142.5M598.0,141.2H602.8M600.4,138.3V144.1M602.8,137.4H604.8M603.8,134.5V140.3M604.8,140.8H606.9M605.8,137.9V143.7M606.9,139.5H610.3M608.6,136.6V142.4M610.3,140.4H613.1M611.7,137.5V143.3M613.1,137.7H616.0M614.6,134.8V140.5M616.0,136.6H618.8M617.4,133.7V139.5M618.8,142.0H621.6M620.2,139.2V144.9M621.6,139.3H624.3M622.9,136.4V142.2M624.3,140.2H627.1M625.7,137.3V143.1M627.1,139.4H629.8M628.4,136.5V142.3M629.8,136.8H632.5M631.1,133.9V139.7M632.5,138.2H635.2M633.8,135.3V141.0M635.2,139.1H637.8M636.5,136.3V142.0M637.8,139.9H640.5M639.2,137.0V142.8M640.5,139.8H643.1M641.8,137.0V142.7M643.1,140.3H645.7M644.4,137.4V143.2M645.7,139.4H648.3M647.0,136.5V142.3M648.3,139.5H650.9M649.6,136.6V142.4M650.9,134.6H653.4M652.1,131.7V137.5M653.4,141.3H656.0M654.7,138.4V144.1M656.0,138.5H658.5M657.2,135.7V141.4M658.5,135.7H661.0M659.7,132.8V138.6M661.0,142.4H663.4M662.2,139.5V145.2M663.4,139.9H665.9M664.7,137.0V142.8M665.9,137.2H668.3M667.1,134.3V140.1M668.3,138.4H670.8M669.6,135.6V141.3M670.8,135.9H673.2M672.0,133.0V138.7M673.2,143.8H675.6M674.4,140.9V146.7M675.6,138.6H677.9M676.7,135.7V141.5M677.9,139.8H680.3M679.1,136.9V142.6M680.3,141.1H682.6M681.5,138.2V144.0M682.6,137.2H684.9M683.8,134.3V140.0M684.9,136.8H687.2M686.1,133.9V139.6M687.2,138.7H689.5M688.4,135.9V141.6M689.5,140.9H691.8M690.7,138.0V143.8M691.8,138.8H694.1M692.9,135.9V141.6M694.1,141.1H696.3M695.2,138.2V144.0M696.3,141.7H698.5M697.4,138.8V144.6M698.5,136.9H700.7M699.6,134.0V139.8M700.7,138.1H702.9M701.8,135.2V140.9M702.9,137.4H705.1M704.0,134.6V140.3M705.1,140.8H707.2M706.2,137.9V143.7M707.2,139.4H709.4M708.3,136.5V142.2M709.4,137.4H711.5M710.4,134.5V140.3M711.5,138.9H713.6M712.6,136.0V141.7M713.6,142.7H715.7M714.7,139.8V145.6M715.7,139.8H717.8M716.8,137.0V142.7M717.8,137.4H719.9M718.8,134.5V140.3M719.9,138.8H721.9M720.9,135.9V141.7M721.9,136.0H724.0M722.9,133.1V138.9M724.0,140.3H726.0M725.0,137.5V143.2M726.0,141.5H728.0M727.0,138.6V144.4M728.0,136.4H730.0M729.0,133.5V139.3M730.0,142.3H731.9M731.0,139.4V145.2M731.9,137.9H733.9M732.9,135.0V140.7M733.9,139.7H735.9M734.9,136.8V142.6M735.9,139.7H737.8M736.8,136.8V142.6M737.8,140.5H739.7M738.8,137.6V143.4M739.7,142.4H741.6M740.7,139.6V145.3M741.6,133.6H743.5M742.6,130.7V136.5M743.5,136.9H745.4M744.5,134.0V139.8M745.4,141.1H747.3M746.3,138.2V143.9M747.3,141.1H749.1M748.2,138.2V144.0M749.1,144.2H751.0M750.0,141.3V147.1M751.0,139.9H752.8M751.9,137.0V142.8M752.8,143.6H754.6M753.7,140.7V146.5M754.6,139.3H756.4M755.5,136.4V142.2M756.4,135.4H757.7M757.0,132.5V138.3" fill="none" stroke="#b8b8b8" stroke-width="0.55"/><path d="M550.9,141.1H757.7" stroke="#8cec8c" stroke-width="1"/><path d="M32.1,295.8H41.6M36.9,293.2V298.4M41.6,289.4H50.6M46.1,286.9V291.9M50.6,290.8H58.8M54.7,287.8V293.8M58.8,292.0H66.3M62.5,289.2V294.9M66.3,289.5H72.5M69.4,286.4V292.6M72.5,285.4H79.3M75.9,281.9V288.8M79.3,277.4H84.8M82.0,273.4V281.3M84.8,287.2H87.7M86.2,283.3V291.1M87.7,280.7H90.5M89.1,276.8V284.7M90.5,277.6H93.4M92.0,273.7V281.6M93.4,284.0H96.2M94.8,280.0V288.0M96.2,283.4H99.0M97.6,278.8V287.9M99.0,274.8H101.8M100.4,270.2V279.4M101.8,279.5H104.5M103.2,274.2V284.7M104.5,270.8H107.3M105.9,265.0V276.5M107.3,262.5H110.0M108.6,256.7V268.3M110.0,262.2H112.7M111.3,255.8V268.6M112.7,259.9H115.4M114.0,253.0V266.9M115.4,250.6H118.0M116.7,243.4V257.9M118.0,252.2H120.7M119.4,244.8V259.7M120.7,246.8H123.3M122.0,239.0V254.6M123.3,251.2H125.9M124.6,242.9V259.5M125.9,241.5H128.5M127.2,232.6V250.4M128.5,234.9H131.0M129.8,225.8V244.1M131.0,225.9H133.6M132.3,216.9V234.9M133.6,227.1H136.1M134.9,218.1V236.2M136.1,219.1H138.6M137.4,209.8V228.4M138.6,227.1H141.1M139.9,217.2V236.9M141.1,235.7H143.6M142.4,225.3V246.1M143.6,237.0H146.1M144.8,227.1V247.0M146.1,230.0H148.5M147.3,221.1V239.0M148.5,253.5H150.9M149.7,245.5V261.6M150.9,267.1H153.3M152.1,258.9V275.4M153.3,238.4H155.7M154.5,229.6V247.1M155.7,240.2H158.1M156.9,231.6V248.8M158.1,250.8H160.4M159.2,242.5V259.2M160.4,262.2H162.7M161.6,253.7V270.6M162.7,266.5H165.1M163.9,258.0V275.1M165.1,270.7H167.4M166.2,262.6V278.9M167.4,264.6H169.6M168.5,256.9V272.3M169.6,270.9H171.9M170.8,263.2V278.6M171.9,265.1H174.2M173.0,257.4V272.9M174.2,262.1H176.4M175.3,254.4V269.9M176.4,260.7H178.6M177.5,252.8V268.6M178.6,264.8H180.8M179.7,256.6V273.0M180.8,266.9H183.0M181.9,258.7V275.1M183.0,257.5H185.2M184.1,249.3V265.7M185.2,253.8H187.3M186.3,245.5V262.0M187.3,275.5H189.5M188.4,267.1V283.8M189.5,268.5H191.6M190.5,260.0V276.9M191.6,269.3H193.7M192.6,260.7V277.9M193.7,268.1H195.8M194.7,259.4V276.8M195.8,272.7H197.9M196.8,263.9V281.5M197.9,263.1H199.9M198.9,254.2V272.0M199.9,267.1H202.0M201.0,258.0V276.1M202.0,275.5H204.0M203.0,266.5V284.5M204.0,276.9H206.0M205.0,267.8V285.9M206.0,282.1H208.0M207.0,273.0V291.2M208.0,282.0H210.0M209.0,272.9V291.1M210.0,267.2H212.0M211.0,258.0V276.4M212.0,287.1H214.0M213.0,277.8V296.4M214.0,276.8H215.9M214.9,267.4V286.1M215.9,275.1H217.8M216.9,265.7V284.5M217.8,268.5H219.7M218.8,259.0V277.9M219.7,257.3H221.7M220.7,247.8V266.8M221.7,275.3H223.5M222.6,265.8V284.8M223.5,267.4H225.4M224.5,257.9V276.9M225.4,267.1H227.3M226.3,257.6V276.6M227.3,276.7H229.1M228.2,267.2V286.2M229.1,274.9H231.0M230.0,265.4V284.4M231.0,275.4H232.8M231.9,266.0V284.9M232.8,273.5H234.6M233.7,264.1V283.0M234.6,275.9H236.4M235.5,266.5V285.4M236.4,277.3H237.5M236.9,267.9V286.7" fill="none" stroke="#c2c2c2" stroke-width="0.55"/><path d="M32.1,337.5H41.6M36.9,334.7V340.4M41.6,328.5H50.6M46.1,325.6V331.4M50.6,334.5H58.8M54.7,331.6V337.4M58.8,334.1H66.3M62.5,331.2V337.0M66.3,333.2H72.5M69.4,330.4V336.1M72.5,331.7H79.3M75.9,328.9V334.6M79.3,329.4H84.8M82.0,326.5V332.3M84.8,335.8H87.7M86.2,332.9V338.7M87.7,330.8H90.5M89.1,327.9V333.6M90.5,328.2H93.4M92.0,325.3V331.1M93.4,332.8H96.2M94.8,330.0V335.7M96.2,335.3H99.0M97.6,332.5V338.2M99.0,329.9H101.8M100.4,327.1V332.8M101.8,336.1H104.5M103.2,333.2V338.9M104.5,333.6H107.3M105.9,330.8V336.5M107.3,329.5H110.0M108.6,326.7V332.4M110.0,331.9H112.7M111.3,329.0V334.8M112.7,333.0H115.4M114.0,330.1V335.9M115.4,330.3H118.0M116.7,327.4V333.1M118.0,331.4H120.7M119.4,328.5V334.3M120.7,330.5H123.3M122.0,327.7V333.4M123.3,333.5H125.9M124.6,330.6V336.4M125.9,332.1H128.5M127.2,329.2V334.9M128.5,330.5H131.0M129.8,327.6V333.4M131.0,327.0H133.6M132.3,324.1V329.9M133.6,327.2H136.1M134.9,324.3V330.1M136.1,325.5H138.6M137.4,322.6V328.3M138.6,329.5H141.1M139.9,326.6V332.3M141.1,333.4H143.6M142.4,330.5V336.3M143.6,332.2H146.1M144.8,329.4V335.1M146.1,326.6H148.5M147.3,323.7V329.5M148.5,331.1H150.9M149.7,328.3V334.0M150.9,336.2H153.3M152.1,333.4V339.1M153.3,327.8H155.7M154.5,325.0V330.7M155.7,327.6H158.1M156.9,324.7V330.5M158.1,330.1H160.4M159.2,327.2V333.0M160.4,334.0H162.7M161.6,331.1V336.9M162.7,335.4H165.1M163.9,332.5V338.3M165.1,335.5H167.4M166.2,332.7V338.4M167.4,331.4H169.6M168.5,328.6V334.3M169.6,333.3H171.9M170.8,330.4V336.2M171.9,331.0H174.2M173.0,328.1V333.9M174.2,329.8H176.4M175.3,326.9V332.7M176.4,329.6H178.6M177.5,326.7V332.5M178.6,331.7H180.8M179.7,328.8V334.6M180.8,332.2H183.0M181.9,329.3V335.0M183.0,328.5H185.2M184.1,325.7V331.4M185.2,327.1H187.3M186.3,324.3V330.0M187.3,334.7H189.5M188.4,331.8V337.6M189.5,332.3H191.6M190.5,329.4V335.2M191.6,332.7H193.7M192.6,329.9V335.6M193.7,332.5H195.8M194.7,329.6V335.4M195.8,333.9H197.9M196.8,331.0V336.8M197.9,330.8H199.9M198.9,327.9V333.6M199.9,332.2H202.0M201.0,329.3V335.0M202.0,334.4H204.0M203.0,331.6V337.3M204.0,334.7H206.0M205.0,331.8V337.6M206.0,336.2H208.0M207.0,333.3V339.1M208.0,336.0H210.0M209.0,333.1V338.9M210.0,331.3H212.0M211.0,328.4V334.2M212.0,337.4H214.0M213.0,334.5V340.3M214.0,334.1H215.9M214.9,331.2V337.0M215.9,333.5H217.8M216.9,330.6V336.4M217.8,331.4H219.7M218.8,328.5V334.3M219.7,327.8H221.7M220.7,324.9V330.7M221.7,332.9H223.5M222.6,330.0V335.8M223.5,330.2H225.4M224.5,327.3V333.1M225.4,329.8H227.3M226.3,327.0V332.7M227.3,332.5H229.1M228.2,329.6V335.3M229.1,331.6H231.0M230.0,328.7V334.5M231.0,331.4H232.8M231.9,328.5V334.3M232.8,330.5H234.6M233.7,327.6V333.4M234.6,330.9H236.4M235.5,328.0V333.7M236.4,331.0H237.5M236.9,328.1V333.9" fill="none" stroke="#b8b8b8" stroke-width="0.55"/><path d="M30.5,332.9H237.5" stroke="#8cec8c" stroke-width="1"/><path d="M292.1,287.3H302.3M297.2,283.6V290.9M302.3,285.8H310.6M306.5,282.7V288.9M310.6,287.2H318.6M314.6,283.6V290.9M318.6,282.5H326.7M322.7,278.8V286.3M326.7,286.4H333.2M329.9,282.0V290.7M333.2,273.1H339.3M336.2,267.8V278.5M339.3,264.9H350.3M344.8,258.8V271.1M350.3,249.9H355.6M353.0,243.3V256.6M355.6,254.2H360.6M358.1,246.4V262.1M360.6,235.1H364.0M362.3,226.1V244.0M364.0,240.1H366.7M365.4,230.9V249.3M366.7,227.5H369.5M368.1,218.8V236.2M369.5,235.9H372.2M370.8,227.2V244.6M372.2,250.3H374.9M373.5,241.5V259.0M374.9,242.2H377.5M376.2,233.4V251.0M377.5,241.6H380.2M378.8,232.8V250.5M380.2,238.7H382.8M381.5,229.7V247.7M382.8,244.1H385.4M384.1,234.8V253.5M385.4,221.9H388.0M386.7,211.5V232.3M388.0,223.3H390.5M389.3,212.8V233.8M390.5,234.9H393.1M391.8,224.9V244.8M393.1,230.0H395.6M394.4,220.1V240.0M395.6,253.8H398.1M396.9,244.1V263.6M398.1,230.6H400.6M399.4,220.4V240.8M400.6,234.1H403.1M401.9,223.2V245.1M403.1,231.3H405.6M404.3,220.2V242.4M405.6,246.5H408.0M406.8,236.3V256.7M408.0,240.2H410.4M409.2,231.5V248.9M410.4,253.6H412.8M411.6,244.8V262.4M412.8,257.1H415.2M414.0,247.7V266.4M415.2,240.9H417.6M416.4,230.6V251.2M417.6,224.1H420.0M418.8,214.2V234.0M420.0,250.0H422.3M421.1,239.7V260.2M422.3,254.2H424.6M423.5,243.6V264.7M424.6,246.0H426.9M425.8,235.9V256.1M426.9,248.5H429.2M428.1,239.7V257.3M429.2,267.7H431.5M430.3,259.1V276.3M431.5,260.2H433.7M432.6,251.6V268.9M433.7,258.7H436.0M434.8,250.0V267.4M436.0,270.4H438.2M437.1,261.5V279.4M438.2,242.2H440.4M439.3,232.8V251.6M440.4,260.4H442.6M441.5,251.1V269.6M442.6,251.1H444.8M443.7,242.0V260.3M444.8,260.5H446.9M445.8,251.2V269.8M446.9,265.0H449.0M448.0,255.6V274.4M449.0,247.1H451.2M450.1,237.6V256.7M451.2,258.1H453.3M452.2,248.3V267.8M453.3,265.1H455.4M454.3,255.2V274.9M455.4,250.8H457.5M456.4,240.8V260.7M457.5,264.3H459.5M458.5,254.2V274.5M459.5,252.1H461.6M460.6,241.8V262.5M461.6,270.9H463.6M462.6,260.6V281.2M463.6,256.0H465.6M464.6,245.8V266.2M465.6,254.0H467.6M466.6,243.7V264.2M467.6,265.5H469.6M468.6,255.2V275.8M469.6,262.7H471.6M470.6,252.2V273.1M471.6,261.2H473.6M472.6,250.7V271.7M473.6,261.4H475.5M474.5,250.8V272.0M475.5,255.8H477.5M476.5,245.2V266.5M477.5,270.6H479.4M478.4,259.8V281.4M479.4,261.9H481.3M480.3,251.1V272.7M481.3,259.2H483.2M482.2,248.4V269.9M483.2,267.3H485.1M484.1,256.6V278.0M485.1,262.3H486.9M486.0,251.7V273.0M486.9,278.2H488.8M487.8,267.6V288.8M488.8,265.2H490.6M489.7,254.6V275.9M490.6,296.1H492.4M491.5,285.5V304.3M492.4,271.7H494.2M493.3,261.1V282.4M494.2,266.4H496.0M495.1,255.7V277.0M496.0,274.9H497.5M496.8,264.3V285.5" fill="none" stroke="#c2c2c2" stroke-width="0.55"/><path d="M292.1,336.9H302.3M297.2,334.0V339.8M302.3,331.1H310.6M306.5,328.2V334.0M310.6,336.5H318.6M314.6,333.6V339.4M318.6,332.8H326.7M322.7,329.9V335.7M326.7,338.7H333.2M329.9,335.9V341.6M333.2,335.2H339.3M336.2,332.3V338.0M339.3,333.9H350.3M344.8,331.0V336.8M350.3,328.8H355.6M353.0,326.0V331.7M355.6,334.8H360.6M358.1,332.0V337.7M360.6,331.4H364.0M362.3,328.5V334.3M364.0,333.6H366.7M365.4,330.8V336.5M366.7,327.7H369.5M368.1,324.8V330.6M369.5,330.4H372.2M370.8,327.5V333.2M372.2,335.0H374.9M373.5,332.1V337.9M374.9,332.3H377.5M376.2,329.4V335.2M377.5,332.0H380.2M378.8,329.1V334.9M380.2,331.3H382.8M381.5,328.5V334.2M382.8,333.9H385.4M384.1,331.0V336.7M385.4,330.2H388.0M386.7,327.3V333.1M388.0,330.7H390.5M389.3,327.8V333.5M390.5,332.0H393.1M391.8,329.1V334.9M393.1,330.5H395.6M394.4,327.6V333.3M395.6,336.6H398.1M396.9,333.7V339.4M398.1,330.8H400.6M399.4,327.9V333.7M400.6,333.7H403.1M401.9,330.8V336.6M403.1,333.0H405.6M404.3,330.1V335.9M405.6,334.6H408.0M406.8,331.7V337.5M408.0,327.9H410.4M409.2,325.1V330.8M410.4,332.3H412.8M411.6,329.5V335.2M412.8,334.6H415.2M414.0,331.8V337.5M415.2,332.2H417.6M416.4,329.3V335.1M417.6,326.0H420.0M418.8,323.2V328.9M420.0,334.1H422.3M421.1,331.2V337.0M422.3,335.7H424.6M423.5,332.9V338.6M424.6,332.2H426.9M425.8,329.3V335.0M426.9,328.4H429.2M428.1,325.5V331.3M429.2,333.8H431.5M430.3,330.9V336.7M431.5,331.1H433.7M432.6,328.2V333.9M433.7,330.4H436.0M434.8,327.5V333.3M436.0,334.7H438.2M437.1,331.8V337.6M438.2,327.1H440.4M439.3,324.2V329.9M440.4,331.8H442.6M441.5,328.9V334.7M442.6,328.3H444.8M443.7,325.4V331.2M444.8,331.3H446.9M445.8,328.4V334.1M446.9,332.7H449.0M448.0,329.8V335.6M449.0,327.4H451.2M450.1,324.5V330.3M451.2,331.0H453.3M452.2,328.1V333.9M453.3,333.1H455.4M454.3,330.2V336.0M455.4,328.9H457.5M456.4,326.1V331.8M457.5,333.0H459.5M458.5,330.2V335.9M459.5,329.9H461.6M460.6,327.0V332.7M461.6,334.6H463.6M462.6,331.7V337.5M463.6,329.9H465.6M464.6,327.0V332.8M465.6,329.2H467.6M466.6,326.3V332.1M467.6,332.3H469.6M468.6,329.5V335.2M469.6,331.5H471.6M470.6,328.6V334.3M471.6,331.0H473.6M472.6,328.1V333.9M473.6,331.0H475.5M474.5,328.1V333.9M475.5,329.4H477.5M476.5,326.6V332.3M477.5,333.3H479.4M478.4,330.4V336.2M479.4,330.8H481.3M480.3,327.9V333.7M481.3,329.6H483.2M482.2,326.7V332.4M483.2,331.3H485.1M484.1,328.5V334.2M485.1,329.6H486.9M486.0,326.8V332.5M486.9,333.6H488.8M487.8,330.7V336.5M488.8,329.7H490.6M489.7,326.9V332.6M490.6,337.8H492.4M491.5,334.9V340.7M492.4,330.9H494.2M493.3,328.0V333.7M494.2,329.1H496.0M495.1,326.2V332.0M496.0,331.1H497.5M496.8,328.2V334.0" fill="none" stroke="#b8b8b8" stroke-width="0.55"/><path d="M290.5,332.9H497.5" stroke="#8cec8c" stroke-width="1"/><path d="M552.1,274.5H562.3M557.2,270.1V278.9M562.3,269.1H571.2M566.8,264.5V273.7M571.2,257.1H579.0M575.1,252.0V262.2M579.0,274.5H586.3M582.6,270.1V278.9M586.3,276.3H593.6M590.0,271.8V280.7M593.6,269.9H600.0M596.8,264.7V275.1M600.0,257.2H605.5M602.8,250.8V263.7M605.5,253.7H611.7M608.6,247.3V260.2M611.7,262.3H616.5M614.1,256.0V268.7M616.5,263.2H621.3M618.9,256.1V270.2M621.3,253.3H626.0M623.6,245.8V260.8M626.0,250.0H629.5M627.8,242.1V258.0M629.5,243.0H632.2M630.9,234.4V251.5M632.2,251.4H634.9M633.5,242.8V260.1M634.9,245.5H637.6M636.2,236.3V254.7M637.6,219.2H640.2M638.9,209.6V228.8M640.2,239.0H642.8M641.5,229.1V248.9M642.8,250.9H645.4M644.1,240.7V261.1M645.4,232.2H648.0M646.7,221.4V242.9M648.0,237.3H650.6M649.3,226.7V247.9M650.6,234.5H653.2M651.9,224.3V244.7M653.2,267.8H655.7M654.4,257.7V277.8M655.7,242.7H658.2M656.9,232.9V252.6M658.2,242.6H660.7M659.5,232.3V253.0M660.7,255.3H663.2M661.9,244.7V265.9M663.2,253.5H665.6M664.4,242.7V264.3M665.6,240.3H668.1M666.9,229.6V251.0M668.1,252.4H670.5M669.3,241.7V263.1M670.5,259.3H672.9M671.7,249.4V269.1M672.9,247.2H675.3M674.1,237.2V257.2M675.3,255.5H677.7M676.5,244.5V266.4M677.7,244.3H680.0M678.9,232.9V255.8M680.0,246.5H682.4M681.2,234.3V258.6M682.4,248.0H684.7M683.5,235.7V260.4M684.7,250.5H687.0M685.9,239.1V261.8M687.0,271.4H689.3M688.2,261.3V281.5M689.3,255.2H691.6M690.4,245.2V265.1M691.6,264.7H693.8M692.7,254.2V275.2M693.8,290.8H696.1M694.9,280.3V301.2M696.1,272.8H698.3M697.2,262.8V282.8M698.3,264.9H700.5M699.4,254.9V274.9M700.5,281.8H702.7M701.6,271.7V291.8M702.7,299.6H704.9M703.8,289.5V304.3M704.9,277.7H707.0M705.9,267.4V288.0M707.0,276.2H709.2M708.1,265.7V286.7M709.2,268.0H711.3M710.2,257.3V278.7M711.3,273.6H713.4M712.3,262.7V284.6M713.4,266.6H715.5M714.5,255.3V277.9M715.5,256.2H717.6M716.5,244.8V267.7M717.6,292.0H719.7M718.6,280.5V303.5M719.7,269.1H721.7M720.7,257.5V280.6M721.7,270.4H723.7M722.7,258.8V282.1M723.7,289.2H725.8M724.8,277.4V301.0M725.8,270.8H727.8M726.8,258.8V282.8M727.8,277.9H729.8M728.8,265.8V290.1M729.8,275.1H731.7M730.8,262.7V287.4M731.7,264.1H733.7M732.7,251.6V276.6M733.7,279.0H735.7M734.7,266.3V291.7M735.7,261.8H737.6M736.6,249.0V274.6M737.6,270.7H739.5M738.6,257.8V283.6M739.5,279.0H741.4M740.5,266.0V292.0M741.4,273.8H743.3M742.4,260.7V287.0M743.3,282.2H745.2M744.3,268.9V295.4M745.2,270.7H747.1M746.1,257.3V284.1M747.1,282.1H748.9M748.0,268.7V295.6M748.9,267.6H750.8M749.8,254.1V281.2M750.8,274.0H752.6M751.7,260.3V287.6M752.6,270.3H754.4M753.5,256.6V284.0M754.4,281.1H756.2M755.3,267.4V294.9M756.2,291.0H757.7M757.0,277.1V304.3" fill="none" stroke="#c2c2c2" stroke-width="0.55"/><path d="M552.1,332.7H562.3M557.2,329.8V335.5M562.3,330.2H571.2M566.8,327.3V333.1M571.2,326.0H579.0M575.1,323.1V328.9M579.0,331.2H586.3M582.6,328.3V334.1M586.3,331.7H593.6M590.0,328.8V334.6M593.6,331.6H600.0M596.8,328.7V334.5M600.0,330.9H605.5M602.8,328.0V333.8M605.5,328.8H611.7M608.6,325.9V331.7M611.7,331.5H616.5M614.1,328.6V334.4M616.5,333.8H621.3M618.9,330.9V336.6M621.3,331.1H626.0M623.6,328.2V334.0M626.0,330.9H629.5M627.8,328.0V333.8M629.5,330.2H632.2M630.9,327.3V333.1M632.2,333.2H634.9M633.5,330.3V336.0M634.9,332.7H637.6M636.2,329.8V335.5M637.6,325.5H640.2M638.9,322.6V328.3M640.2,332.0H642.8M641.5,329.1V334.8M642.8,335.8H645.4M644.1,333.0V338.7M645.4,331.7H648.0M646.7,328.8V334.6M648.0,332.4H650.6M649.3,329.5V335.2M650.6,330.1H653.2M651.9,327.2V333.0M653.2,338.8H655.7M654.4,336.0V341.7M655.7,330.6H658.2M656.9,327.7V333.5M658.2,331.7H660.7M659.5,328.9V334.6M660.7,335.6H663.2M661.9,332.7V338.5M663.2,335.2H665.6M664.4,332.3V338.1M665.6,330.9H668.1M666.9,328.1V333.8M668.1,333.9H670.5M669.3,331.0V336.8M670.5,333.2H672.9M671.7,330.3V336.1M672.9,329.7H675.3M674.1,326.8V332.6M675.3,334.1H677.7M676.5,331.3V337.0M677.7,332.0H680.0M678.9,329.2V334.9M680.0,333.9H682.4M681.2,331.0V336.8M682.4,334.4H684.7M683.5,331.5V337.2M684.7,332.2H687.0M685.9,329.3V335.1M687.0,334.3H689.3M688.2,331.4V337.2M689.3,328.7H691.6M690.4,325.9V331.6M691.6,332.7H693.8M692.7,329.8V335.5M693.8,339.3H696.1M694.9,336.4V342.2M696.1,332.8H698.3M697.2,329.9V335.7M698.3,330.0H700.5M699.4,327.1V332.9M700.5,334.5H702.7M701.6,331.6V337.4M702.7,339.3H704.9M703.8,336.4V342.2M704.9,333.0H707.0M705.9,330.2V335.9M707.0,332.7H709.2M708.1,329.9V335.6M709.2,330.7H711.3M710.2,327.8V333.5M711.3,332.3H713.4M712.3,329.4V335.2M713.4,330.9H715.5M714.5,328.0V333.8M715.5,328.3H717.6M716.5,325.4V331.2M717.6,336.9H719.7M718.6,334.1V339.8M719.7,330.9H721.7M720.7,328.0V333.8M721.7,331.2H723.7M722.7,328.3V334.1M723.7,335.7H725.8M724.8,332.8V338.6M725.8,331.2H727.8M726.8,328.3V334.1M727.8,332.9H729.8M728.8,330.0V335.8M729.8,332.2H731.7M730.8,329.3V335.1M731.7,329.7H733.7M732.7,326.8V332.5M733.7,333.1H735.7M734.7,330.2V335.9M735.7,329.1H737.6M736.6,326.2V331.9M737.6,330.9H739.5M738.6,328.0V333.8M739.5,332.6H741.4M740.5,329.7V335.5M741.4,331.3H743.3M742.4,328.4V334.2M743.3,333.0H745.2M744.3,330.1V335.9M745.2,330.4H747.1M746.1,327.5V333.2M747.1,332.6H748.9M748.0,329.8V335.5M748.9,329.4H750.8M749.8,326.5V332.2M750.8,330.5H752.6M751.7,327.6V333.4M752.6,329.5H754.4M753.5,326.6V332.4M754.4,331.6H756.2M755.3,328.7V334.4M756.2,333.4H757.7M757.0,330.5V336.3" fill="none" stroke="#b8b8b8" stroke-width="0.55"/><path d="M550.9,332.9H757.7" stroke="#8cec8c" stroke-width="1"/><g><path d="M32.1,83.9 H39.5 V92.2 H46.4 V91.5 H52.6 V86.4 H58.8 V87 H64.2 V84.4 H69.4 V79 H74.5 V73 H79.1 V68 H83.4 V63.7 H86.2 V59.8 H88.3 V57 H90.3 V55.5 H92.3 V52.6 V52.4 H95.1 V52.9 H97.9 V54.1 H100.7 V54.1 H103.5 V54.0 H106.2 V52.4 H109.0 V47.3 H111.7 V41.9 H114.4 V40.7 H117.0 V40.7 H119.7 V40.6 H122.3 V39.6 H124.9 V37.1 H127.5 V37.0 H130.1 V41.2 H132.6 V45.3 H135.2 V47.8 H137.7 V46.1 H140.2 V41.9 H142.7 V41.3 H145.1 V50.3 H147.6 V61.1 H150.0 V69.2 H152.4 V68.6 H154.8 V67.2 H157.2 V66.6 H159.5 V61.4 H161.9 V60.9 H164.2 V68.8 H166.5 V79.3 H168.8 V81.9 H171.1 V81.3 H173.3 V80.0 H175.5 V78.5 H177.8 V77.0 H180.0 V76.2 H182.2 V77.3 H184.3 V79.5 H186.5 V82.2 H188.7 V84.1 H190.8 V85.1 H192.9 V85.7 H195.0 V86.1 H197.1 V86.5 H199.1 V86.8 H201.2 V87.1 H203.2 V87.4 H205.3 V87.7 H207.3 V88.0 H209.3 V88.2 H211.2 V88.5 H213.2 V88.8 H215.2 V89.1 H217.1 V89.5 H219.0 V89.9 H220.9 V90.4 H222.8 V91.0 H224.7 V91.6 H226.6 V92.3 H228.4 V93.0 H230.3 V93.7 H232.1 V94.5 H233.9 V95.2 H235.7 V96.0 H237.5" fill="none" stroke="#ff0000" stroke-width="1.75" stroke-linejoin="round"/><path d="M35.5,84.6 L37.5,88.0 L39.6,91.4 L42.3,93.0 L46.4,93.0 L50.6,92.1 L53.3,90.0 L55.3,88.7 L57.4,89.1 L61.5,89.8 L65.6,90.0 L71.1,90.3 L75.2,91.4 L79.3,93.0 L83.4,95.8 L87.5,98.9 L91.7,101.7 L95.8,103.7 L99.9,105.8 L104.0,107.8 L108.1,109.9 L113.6,111.7 L117.7,112.0" fill="none" stroke="#ff9933" stroke-width="1.15" stroke-linejoin="round"/><path d="M57.4,112.0 L61.5,110.6 L67.0,107.8 L72.5,103.7 L78.0,98.3 L82.1,92.8 L86.2,86.6 L90.3,80.7 L93.0,78.4 L95.8,80.4 L99.9,85.2 L104.0,89.3 L108.1,92.1 L112.2,92.5 L115.6,90.7 L119.1,89.3 L123.2,90.7 L127.3,91.4 L130.0,93.5 L133.0,98.3 L137.1,99.9 L141.2,100.3 L145.3,100.7 L148.1,101.7 L150.8,103.7 L154.9,105.8 L160.4,107.8 L165.9,109.5 L172.7,110.6 L181.0,111.3 L190.5,112.0" fill="none" stroke="#ff33ff" stroke-width="1.2" stroke-linejoin="round"/><path d="M69.7,112.0 L75.2,109.9 L80.7,107.8 L86.2,105.8 L90.3,103.1 L94.4,98.9 L98.5,93.5 L102.6,88.0 L106.7,81.8 L110.2,75.6 L113.6,70.6 L116.3,71.5 L119.1,72.9 L123.2,71.9 L127.3,71.1 L130.0,72.2 L133.0,76.1 L135.7,78.0 L139.2,78.8 L141.9,79.3 L144.0,83.2 L146.7,89.3 L149.4,94.8 L152.9,98.9 L157.0,103.1 L161.1,106.5 L165.9,108.5 L172.7,109.9 L181.0,111.3 L187.8,112.0" fill="none" stroke="#33ee33" stroke-width="1.2" stroke-linejoin="round"/><path d="M98.5,112.0 L104.0,110.6 L109.5,108.9 L115.0,107.2 L120.4,105.1 L125.9,102.4 L130.0,99.9 L133.0,97.6 L135.7,95.5 L139.2,90.7 L143.3,88.4 L146.7,90.7 L149.4,94.1 L152.2,93.5 L154.9,92.1 L157.7,93.9 L161.8,98.5 L165.2,97.6 L170.0,93.5 L175.5,91.4 L182.3,90.0 L190.5,89.1 L198.8,88.4 L205.6,88.7 L212.5,89.1 L219.3,89.8 L226.2,91.4 L231.7,93.5 L237.0,96.2" fill="none" stroke="#3333ff" stroke-width="1.2" stroke-linejoin="round"/><path d="M154.9,112.0 L157.0,101.7 L159.0,91.4 L161.8,84.8 L163.8,86.6 L165.2,91.4 L166.6,98.3 L167.9,105.1 L169.3,112.0" fill="none" stroke="#555555" stroke-width="0.7" stroke-linejoin="round" stroke-dasharray="2,1.8"/></g><g><path d="M292.1,81.5 H302.3 V85.2 H311.2 V87.3 H318.8 V86.6 H326.3 V82.9 H332.5 V72.2 H339.3 V63.7 H343.8 V60.5 V60.0 H346.7 V56.7 H349.6 V51.5 H352.4 V44.1 H355.2 V43.5 H358.0 V42.1 H360.8 V43.0 H363.6 V46.5 H366.3 V49.6 H369.1 V50.3 H371.8 V48.0 H374.4 V43.9 H377.1 V40.7 H379.8 V38.6 H382.4 V36.9 H385.0 V32.9 H387.6 V33.1 H390.2 V40.1 H392.7 V47.8 H395.2 V50.8 H397.8 V49.7 H400.3 V47.0 H402.7 V47.4 H405.2 V50.2 H407.6 V56.9 H410.1 V64.8 H412.5 V63.8 H414.9 V63.7 H417.2 V68.9 H419.6 V62.6 H421.9 V62.5 H424.3 V71.6 H426.6 V80.5 H428.9 V82.7 H431.1 V78.0 H433.4 V78.0 H435.6 V81.1 H437.9 V77.7 H440.1 V76.3 H442.3 V82.3 H444.4 V84.7 H446.6 V85.4 H448.7 V85.8 H450.9 V85.4 H453.0 V85.3 H455.1 V85.9 H457.2 V87.0 H459.2 V87.6 H461.3 V88.2 H463.3 V88.7 H465.3 V89.1 H467.3 V89.5 H469.3 V89.8 H471.3 V90.1 H473.3 V90.4 H475.2 V90.8 H477.2 V91.2 H479.1 V92.0 H481.0 V92.9 H482.9 V93.7 H484.8 V94.5 H486.6 V95.2 H488.5 V96.0 H490.3 V96.8 H492.2 V97.6 H494.0 V98.2 H495.8 V98.8 H497.5" fill="none" stroke="#ff0000" stroke-width="1.75" stroke-linejoin="round"/><path d="M297.5,89.1 L302.3,89.8 L306.4,90.7 L311.9,93.5 L317.4,96.9 L322.9,100.3 L328.4,103.1 L333.8,104.4 L337.3,104.0 L340.7,102.4 L344.1,101.7 L346.2,103.1 L348.9,106.5 L353.0,109.2 L358.5,110.9 L364.0,112.0" fill="none" stroke="#ff9933" stroke-width="1.15" stroke-linejoin="round"/><path d="M328.4,112.0 L333.8,110.6 L339.3,108.5 L344.8,104.4 L348.9,98.3 L352.3,90.7 L355.8,84.6 L358.5,83.5 L361.3,84.6 L364.7,87.3 L367.4,90.7 L370.2,93.0 L372.2,92.1 L375.0,88.0 L377.7,83.2 L380.4,80.4 L384.5,77.7 L387.3,74.3 L388.7,73.9 L390.7,79.1 L393.0,84.6 L395.7,88.7 L399.2,89.8 L402.6,88.7 L406.0,86.6 L408.1,85.9 L409.4,88.7 L412.2,93.0 L414.9,91.4 L417.0,92.8 L418.3,98.3 L420.4,103.1 L423.8,105.8 L427.3,105.8 L430.7,103.1 L433.4,99.9 L435.5,101.0 L438.2,104.4 L442.3,107.2 L447.8,108.1 L453.3,108.1 L456.0,107.6 L458.8,108.9 L464.3,110.3 L469.7,111.3 L475.2,112.0" fill="none" stroke="#ff33ff" stroke-width="1.2" stroke-linejoin="round"/><path d="M297.5,106.5 L302.3,107.6 L306.4,108.5 L310.6,107.2 L316.0,104.8 L321.5,101.7 L327.0,97.6 L331.1,92.8 L335.2,85.9 L338.6,82.5 L342.1,81.1 L345.5,81.8 L348.9,80.7 L354.4,79.1 L358.5,78.7 L362.6,79.3 L368.1,80.7 L372.2,82.1 L376.3,85.2 L380.4,88.7 L385.9,93.5 L391.4,98.3 L394.0,100.3 L397.1,102.4 L401.2,104.4 L405.3,106.5 L409.4,108.5 L413.6,110.3 L417.7,111.7 L420.4,112.2" fill="none" stroke="#33ee33" stroke-width="1.2" stroke-linejoin="round"/><path d="M344.8,112.0 L350.3,110.6 L357.1,108.5 L364.0,105.8 L370.8,101.7 L377.7,97.6 L384.5,92.8 L390.0,88.0 L393.0,86.6 L395.7,84.6 L399.2,81.5 L403.3,79.3 L406.0,81.1 L408.1,85.9 L410.1,88.0 L414.2,88.4 L417.0,90.7 L419.7,94.4 L422.5,96.6 L425.2,95.8 L428.6,94.1 L432.7,92.5 L438.2,91.8 L445.1,91.1 L453.3,90.7 L460.1,91.0 L467.0,91.7 L473.8,92.8 L480.7,93.9 L487.5,95.5 L493.0,97.6 L497.0,99.4" fill="none" stroke="#3333ff" stroke-width="1.2" stroke-linejoin="round"/><path d="M416.5,112.0 L418.3,106.5 L419.7,101.0 L421.1,91.4 L422.5,84.6 L423.8,86.6 L425.2,93.5 L426.6,100.3 L427.9,107.8 L428.9,112.0" fill="none" stroke="#555555" stroke-width="0.7" stroke-linejoin="round" stroke-dasharray="2,1.8"/></g><g><path d="M552.1,100.3 H562.3 V103.7 H571.2 V99.6 H579.5 V96.9 H586.7 V90.7 H593.6 V80.2 H598 V72.2 H602.8 V69.6 H604.8 V67 H606.9 V57.8 H610.3 V47.9 H613.1 V42.1 H616.0 V40.6 H618.8 V40.4 H621.6 V40.6 H624.3 V41.4 H627.1 V41.4 H629.8 V38.1 H632.5 V33.0 H635.2 V30.3 H637.8 V30.1 H640.5 V32.7 H643.1 V34.5 H645.7 V32.8 H648.3 V37.4 H650.9 V50.9 H653.4 V56.7 H656.0 V63.0 H658.5 V63.7 H661.0 V62.4 H663.4 V62.6 H665.9 V62.9 H668.3 V65.6 H670.8 V75.8 H673.2 V81.1 H675.6 V79.7 H677.9 V84.5 H680.3 V82.5 H682.6 V82.8 H684.9 V88.5 H687.2 V94.8 H689.5 V94.8 H691.8 V91.3 H694.1 V92.9 H696.3 V98.3 H698.5 V99.2 H700.7 V99.8 H702.9 V100.0 H705.1 V100.2 H707.2 V100.3 H709.4 V100.1 H711.5 V99.9 H713.6 V99.4 H715.7 V99.9 H717.8 V100.7 H719.9 V100.9 H721.9 V101.1 H724.0 V101.2 H726.0 V101.4 H728.0 V101.5 H730.0 V101.6 H731.9 V101.7 H733.9 V101.8 H735.9 V102.0 H737.8 V102.2 H739.7 V102.4 H741.6 V102.6 H743.5 V103.1 H745.4 V103.4 H747.3 V103.6 H749.1 V103.8 H751.0 V103.9 H752.8 V104.0 H754.6 V104.4 H756.4 V104.8 H757.7" fill="none" stroke="#ff0000" stroke-width="1.75" stroke-linejoin="round"/><path d="M557.5,102.4 L562.3,104.0 L566.4,104.8 L570.6,104.1 L574.7,103.3 L580.1,103.1 L587.0,103.3 L593.8,103.3 L598.0,104.0 L603.4,105.1 L608.9,107.2 L614.4,108.9 L621.3,110.3 L629.5,111.7 L635.0,112.0" fill="none" stroke="#ff9933" stroke-width="1.15" stroke-linejoin="round"/><path d="M584.3,112.0 L589.7,111.3 L595.2,109.2 L600.7,105.8 L604.8,101.7 L608.9,94.1 L612.3,86.6 L615.8,83.2 L618.5,83.9 L622.6,86.6 L626.0,88.9 L628.8,90.3 L631.5,88.7 L635.0,82.5 L638.4,76.3 L640.4,75.0 L643.2,76.6 L645.9,73.3 L647.6,71.5 L649.3,73.3 L651.4,79.8 L653.0,84.6 L655.7,88.7 L658.5,90.0 L662.6,88.0 L666.0,84.6 L668.1,80.4 L669.2,81.1 L670.8,87.3 L672.9,92.8 L674.9,92.1 L677.0,95.5 L679.0,102.4 L681.8,105.1 L685.9,105.8 L689.3,103.7 L692.7,99.6 L694.8,101.7 L696.8,105.1 L699.6,107.2 L705.1,107.8 L710.5,108.5 L715.3,108.1 L717.4,109.2 L721.5,110.6 L729.7,111.7 L738.0,112.0" fill="none" stroke="#ff33ff" stroke-width="1.2" stroke-linejoin="round"/><path d="M558.2,111.7 L566.4,111.7 L573.3,111.0 L578.8,109.9 L584.3,107.6 L589.7,103.1 L595.2,96.2 L598.6,91.4 L601.4,88.4 L605.5,87.6 L609.6,83.9 L614.4,78.4 L619.9,73.3 L625.4,69.5 L630.8,65.4 L633.5,63.6 L635.5,64.5 L637.7,66.7 L640.4,70.2 L644.5,74.3 L648.7,77.7 L652.1,81.8 L655.1,87.3 L657.8,89.3 L661.2,91.4 L664.0,94.8 L666.7,98.3 L670.8,102.4 L674.9,105.1 L679.0,107.8 L683.1,109.9 L688.6,111.3 L694.1,112.0" fill="none" stroke="#33ee33" stroke-width="1.2" stroke-linejoin="round"/><path d="M645.0,112.0 L653.0,111.7 L659.9,109.9 L666.7,108.9 L673.6,108.5 L680.4,108.1 L687.3,107.6 L694.1,106.5 L701.0,105.4 L707.8,104.4 L714.7,103.7 L721.5,103.3 L728.4,103.1 L735.2,102.9 L740.7,103.1 L742.6,102.4 L743.3,99.6 L744.0,102.6 L748.9,104.0 L751.7,104.0 L752.6,101.4 L753.4,104.2 L757.0,105.8" fill="none" stroke="#3333ff" stroke-width="1.2" stroke-linejoin="round"/><path d="M676.0,112.0 L678.0,104.0 L680.5,97.0 L682.5,96.5 L684.5,99.0 L686.0,104.0 L687.5,112.0" fill="none" stroke="#555555" stroke-width="0.7" stroke-linejoin="round" stroke-dasharray="2,1.8"/></g><g><path d="M32.1,291.6 H41.6 V293.3 H50.6 V289.2 H58.8 V290.9 H66.3 V289.2 H72.5 V286.8 H79.3 V282.3 H84.8 V283.1 V283.3 H87.7 V283.7 H90.5 V284.1 H93.4 V284.1 H96.2 V279.6 H99.0 V279.6 H101.8 V273.8 H104.5 V269.4 H107.3 V269.4 H110.0 V264.5 H112.7 V259.8 H115.4 V257.4 H118.0 V256.2 H120.7 V253.3 H123.3 V249.6 H125.9 V244.3 H128.5 V242.7 H131.0 V244.6 H133.6 V245.1 H136.1 V243.3 H138.6 V239.0 H141.1 V234.1 H143.6 V239.4 H146.1 V249.7 H148.5 V258.6 H150.9 V257.7 H153.3 V253.9 H155.7 V256.2 H158.1 V259.2 H160.4 V259.0 H162.7 V259.2 H165.1 V263.4 H167.4 V268.6 H169.6 V269.9 H171.9 V270.4 H174.2 V270.7 H176.4 V269.9 H178.6 V268.3 H180.8 V269.1 H183.0 V270.0 H185.2 V270.4 H187.3 V270.4 H189.5 V270.4 H191.6 V269.9 H193.7 V269.4 H195.8 V269.8 H197.9 V269.8 H199.9 V269.5 H202.0 V270.8 H204.0 V271.3 H206.0 V271.9 H208.0 V272.3 H210.0 V272.5 H212.0 V272.8 H214.0 V273.1 H215.9 V273.3 H217.8 V273.6 H219.7 V274.2 H221.7 V275.4 H223.5 V276.4 H225.4 V277.3 H227.3 V278.3 H229.1 V279.3 H231.0 V280.5 H232.8 V281.6 H234.6 V282.8 H236.4 V283.7 H237.5" fill="none" stroke="#ff0000" stroke-width="1.75" stroke-linejoin="round"/><path d="M32.1,291.6 L36.9,292.3 L41.0,293.3 L46.4,294.1 L50.6,293.0 L53.3,290.9 L55.3,290.3 L58.8,290.9 L62.9,291.4 L68.4,291.4 L73.8,290.9 L78.0,289.6 L81.4,287.8 L82.8,287.5 L84.8,289.6 L87.5,292.3 L90.3,295.1 L94.4,297.8 L99.9,299.8 L106.7,301.6 L113.6,303.0 L120.4,304.0" fill="none" stroke="#ff9933" stroke-width="1.15" stroke-linejoin="round"/><path d="M67.0,304.0 L75.2,302.6 L82.1,301.2 L87.5,299.6 L93.0,297.1 L98.5,294.1 L104.0,290.3 L109.5,286.4 L115.0,282.3 L119.1,280.7 L121.8,279.3 L124.5,275.9 L126.6,273.5 L128.4,272.2 L130.7,273.1 L133.0,275.2 L135.7,275.2 L139.2,272.4 L142.3,270.4 L144.6,273.1 L147.4,278.6 L150.1,282.3 L152.2,281.3 L154.9,279.3 L157.0,282.0 L159.0,287.5 L161.1,291.4 L163.8,292.3 L167.3,290.9 L170.0,289.6 L174.1,288.9 L177.5,288.2 L180.3,287.5 L183.0,289.6 L187.8,290.3 L194.7,290.5 L200.1,289.6 L204.3,290.9 L212.5,291.9 L219.3,292.7 L226.2,294.6 L231.7,296.0 L237.0,297.4" fill="none" stroke="#ff33ff" stroke-width="1.2" stroke-linejoin="round"/><path d="M78.0,304.0 L84.8,303.3 L91.7,301.9 L98.5,299.6 L104.0,296.4 L109.5,291.6 L113.6,287.8 L117.7,287.2 L123.2,286.4 L127.3,285.0 L130.7,285.5 L133.0,286.4 L137.1,287.2 L140.5,287.5 L142.6,287.8 L145.3,290.9 L148.1,294.4 L152.2,297.1 L157.7,299.6 L164.5,301.5 L172.7,302.9 L182.3,303.7 L190.5,304.0" fill="none" stroke="#33ee33" stroke-width="1.2" stroke-linejoin="round"/><path d="M101.3,304.0 L106.7,303.3 L112.2,301.9 L119.1,299.8 L125.9,296.8 L133.0,293.7 L136.4,291.6 L139.9,288.9 L142.9,286.4 L146.0,288.2 L149.4,290.9 L152.2,290.3 L154.9,289.2 L157.7,290.9 L160.4,293.3 L163.1,294.1 L166.6,292.7 L171.4,289.6 L176.8,287.8 L183.7,286.4 L191.9,285.5 L201.5,285.0 L209.7,285.5 L218.0,286.4 L226.2,288.2 L231.7,290.0 L237.0,291.9" fill="none" stroke="#3333ff" stroke-width="1.2" stroke-linejoin="round"/><path d="M156.5,304.0 L157.7,299.8 L159.0,293.7 L160.4,289.6 L162.5,287.5 L164.2,288.9 L165.9,293.0 L167.3,297.1 L168.6,302.6 L169.0,304.0" fill="none" stroke="#555555" stroke-width="0.7" stroke-linejoin="round" stroke-dasharray="2,1.8"/></g><g><path d="M292.1,282.3 H302.3 V287.8 H310.6 V282.7 H326.7 V277.6 H333.2 V269 H339.3 V262.9 H350.3 V259.4 H355.6 V249.1 H360.6 V239.8 H364 V237.9 H366.7 V243.4 H369.5 V243.7 H372.2 V244.0 H374.9 V244.2 H377.5 V244.5 H380.2 V243.7 H382.8 V241.2 H385.4 V231.9 H388.0 V231.7 H390.5 V238.1 H393.1 V238.6 H395.6 V241.6 H398.1 V238.1 H400.6 V231.3 H403.1 V231.0 H405.6 V240.8 H408.0 V255.4 H410.4 V255.4 H412.8 V251.6 H415.2 V243.5 H417.6 V247.9 H420.0 V245.9 H422.3 V244.0 H424.6 V248.8 H426.9 V262.5 H429.2 V265.2 H431.5 V265.9 H433.7 V266.4 H436.0 V265.0 H438.2 V261.4 H440.4 V264.1 H442.6 V265.9 H444.8 V265.9 H446.9 V265.9 H449.0 V265.5 H451.2 V264.6 H453.3 V264.6 H455.4 V264.6 H457.5 V264.0 H459.5 V263.2 H461.6 V265.0 H463.6 V266.8 H465.6 V267.3 H467.6 V267.7 H469.6 V268.0 H471.6 V268.3 H473.6 V268.5 H475.5 V268.9 H477.5 V269.2 H479.4 V269.8 H481.3 V271.7 H483.2 V273.3 H485.1 V274.6 H486.9 V275.9 H488.8 V277.1 H490.6 V278.3 H492.4 V279.4 H494.2 V280.6 H496.0 V281.7 H497.5" fill="none" stroke="#ff0000" stroke-width="1.75" stroke-linejoin="round"/><path d="M297.5,285.5 L302.3,287.5 L306.4,289.6 L310.6,288.6 L314.7,287.2 L317.4,287.8 L322.9,289.2 L328.4,290.0 L333.8,290.3 L338.0,289.2 L341.4,288.2 L343.4,288.9 L346.2,291.6 L350.3,295.7 L354.4,299.6 L359.9,301.9 L365.4,303.3 L369.5,304.0" fill="none" stroke="#ff9933" stroke-width="1.15" stroke-linejoin="round"/><path d="M328.4,304.0 L335.2,302.6 L340.7,301.2 L346.2,298.5 L350.3,294.4 L354.4,288.9 L357.8,281.3 L360.6,275.2 L363.3,271.1 L366.0,269.7 L368.1,271.8 L370.8,275.2 L374.3,276.3 L377.7,274.5 L381.1,273.1 L384.5,269.0 L386.6,264.2 L388.7,260.8 L390.7,261.5 L393.0,265.9 L396.4,269.7 L399.2,267.6 L402.3,265.3 L404.6,268.3 L407.4,275.2 L410.1,280.7 L412.9,277.2 L415.6,273.8 L417.0,276.6 L418.3,283.4 L420.4,290.3 L423.1,292.3 L426.6,290.9 L430.0,289.6 L434.1,289.2 L436.8,288.6 L439.6,285.5 L441.6,287.5 L443.7,290.3 L447.8,291.9 L453.3,291.4 L457.4,291.9 L460.8,290.5 L463.6,293.0 L469.7,294.4 L475.2,294.6 L479.3,294.6 L483.4,296.4 L488.9,298.2 L497.0,299.8" fill="none" stroke="#ff33ff" stroke-width="1.2" stroke-linejoin="round"/><path d="M297.5,303.7 L306.4,303.7 L314.7,302.6 L321.5,300.5 L328.4,297.1 L333.8,291.9 L338.0,288.6 L343.4,286.4 L348.9,284.1 L354.4,281.3 L359.9,279.6 L365.4,279.3 L370.8,280.0 L375.0,281.3 L379.1,284.8 L384.5,288.9 L390.0,292.3 L393.0,295.1 L398.5,297.8 L404.0,300.1 L409.4,302.6 L413.6,304.0" fill="none" stroke="#33ee33" stroke-width="1.2" stroke-linejoin="round"/><path d="M361.3,304.0 L366.7,302.9 L372.2,300.5 L377.7,298.5 L383.2,295.7 L388.7,291.9 L393.0,288.9 L396.4,286.1 L399.9,282.0 L403.3,277.9 L406.7,281.3 L410.1,285.0 L412.9,284.1 L415.6,283.1 L417.7,285.5 L420.4,289.6 L422.5,289.6 L425.9,287.5 L431.4,284.1 L438.2,282.0 L445.1,280.4 L451.9,279.3 L460.1,278.6 L468.4,279.3 L476.6,280.4 L483.4,282.3 L490.3,284.8 L497.0,287.8" fill="none" stroke="#3333ff" stroke-width="1.2" stroke-linejoin="round"/><path d="M413.6,304.0 L416.3,295.7 L419.0,284.8 L421.1,277.2 L423.1,274.5 L425.2,279.3 L426.6,286.1 L427.9,294.4 L429.3,301.2 L430.0,304.0" fill="none" stroke="#555555" stroke-width="0.7" stroke-linejoin="round" stroke-dasharray="2,1.8"/></g><g><path d="M552.1,274.9 H562.3 V273.5 H571.2 V269.4 H579 V277.2 H586.3 V278.2 H593.6 V272.4 H600 V261.8 H605.5 V263.1 H611.7 V265.6 H616.5 V261.2 H621.3 V258.1 H626 V255.7 H629.5 V251.1 H632.2 V250.8 H634.9 V246.4 H637.6 V244.2 H640.2 V242.4 H642.8 V240.7 H645.4 V236.8 H648.0 V239.5 H650.6 V244.5 H653.2 V247.2 H655.7 V250.8 H658.2 V247.0 H660.7 V245.6 H663.2 V245.0 H665.6 V247.8 H668.1 V248.8 H670.5 V258.5 H672.9 V258.5 H675.3 V251.0 H677.7 V247.9 H680.0 V242.4 H682.4 V242.0 H684.7 V253.5 H687.0 V266.6 H689.3 V269.7 H691.6 V265.7 H693.8 V267.8 H696.1 V273.4 H698.3 V275.2 H700.5 V276.4 H702.7 V277.3 H704.9 V277.3 H707.0 V277.0 H709.2 V276.6 H711.3 V276.1 H713.4 V274.7 H715.5 V274.6 H717.6 V276.1 H719.7 V277.3 H721.7 V277.5 H723.7 V277.8 H725.8 V278.0 H727.8 V278.1 H729.8 V278.3 H731.7 V278.4 H733.7 V278.6 H735.7 V279.1 H737.6 V279.9 H739.5 V280.6 H741.4 V281.3 H743.3 V282.0 H745.2 V282.7 H747.1 V283.6 H748.9 V284.6 H750.8 V285.5 H752.6 V286.7 H754.4 V287.8 H756.2 V288.9 H757.7" fill="none" stroke="#ff0000" stroke-width="1.75" stroke-linejoin="round"/><path d="M557.5,276.3 L562.3,275.2 L567.8,274.1 L572.6,272.4 L574.7,271.1 L576.7,273.1 L579.5,277.2 L582.9,280.0 L587.0,282.7 L591.1,284.5 L595.2,284.1 L598.0,282.0 L600.7,278.6 L602.8,276.6 L604.8,278.6 L607.6,282.7 L610.3,288.2 L613.7,293.7 L618.5,297.1 L624.0,299.8 L629.5,301.9 L635.0,303.3 L640.4,304.0" fill="none" stroke="#ff9933" stroke-width="1.15" stroke-linejoin="round"/><path d="M607.6,304.0 L613.0,301.9 L618.5,299.2 L622.6,297.8 L628.1,297.4 L632.2,295.7 L636.3,290.9 L641.1,284.8 L644.5,280.7 L647.6,276.3 L650.0,277.9 L653.0,281.3 L656.4,284.5 L659.2,283.4 L663.3,279.3 L666.0,276.3 L668.3,274.1 L670.1,277.9 L671.5,280.7 L673.6,278.6 L675.6,277.6 L677.0,282.0 L679.0,288.9 L681.8,295.7 L684.5,296.4 L687.9,295.7 L690.7,289.6 L693.4,284.5 L695.5,286.1 L698.2,291.6 L701.6,295.7 L705.1,297.1 L710.5,297.8 L715.3,296.4 L717.4,298.2 L721.5,300.1 L728.4,301.2 L735.2,301.5 L740.7,302.6 L746.2,304.0" fill="none" stroke="#ff33ff" stroke-width="1.2" stroke-linejoin="round"/><path d="M581.5,304.0 L589.7,300.9 L596.6,295.7 L603.4,291.9 L608.9,288.9 L614.4,284.1 L619.9,278.6 L625.4,272.4 L629.5,268.1 L632.9,265.6 L635.6,265.6 L639.1,267.6 L643.2,269.4 L648.7,272.2 L653.0,276.6 L657.1,280.0 L661.2,282.7 L664.6,286.8 L668.1,291.6 L672.2,296.0 L676.3,299.2 L681.8,301.9 L688.6,303.3 L694.1,304.0" fill="none" stroke="#33ee33" stroke-width="1.2" stroke-linejoin="round"/><path d="M643.2,304.0 L648.7,301.9 L653.0,300.5 L658.5,297.1 L664.0,293.7 L668.1,294.6 L672.2,295.7 L676.3,294.6 L679.7,295.7 L682.5,296.8 L686.6,295.1 L691.4,291.9 L696.8,289.6 L703.7,287.2 L711.9,285.0 L720.1,283.4 L728.4,282.4 L736.6,282.9 L744.8,284.5 L751.7,286.4 L757.0,289.2" fill="none" stroke="#3333ff" stroke-width="1.2" stroke-linejoin="round"/><path d="M677.0,304.0 L678.3,294.4 L679.7,283.4 L681.8,269.7 L683.1,265.3 L684.5,267.6 L685.9,276.6 L687.3,287.5 L688.6,297.1 L690.3,304.0" fill="none" stroke="#555555" stroke-width="0.7" stroke-linejoin="round" stroke-dasharray="2,1.8"/></g>
</svg></body></html>
